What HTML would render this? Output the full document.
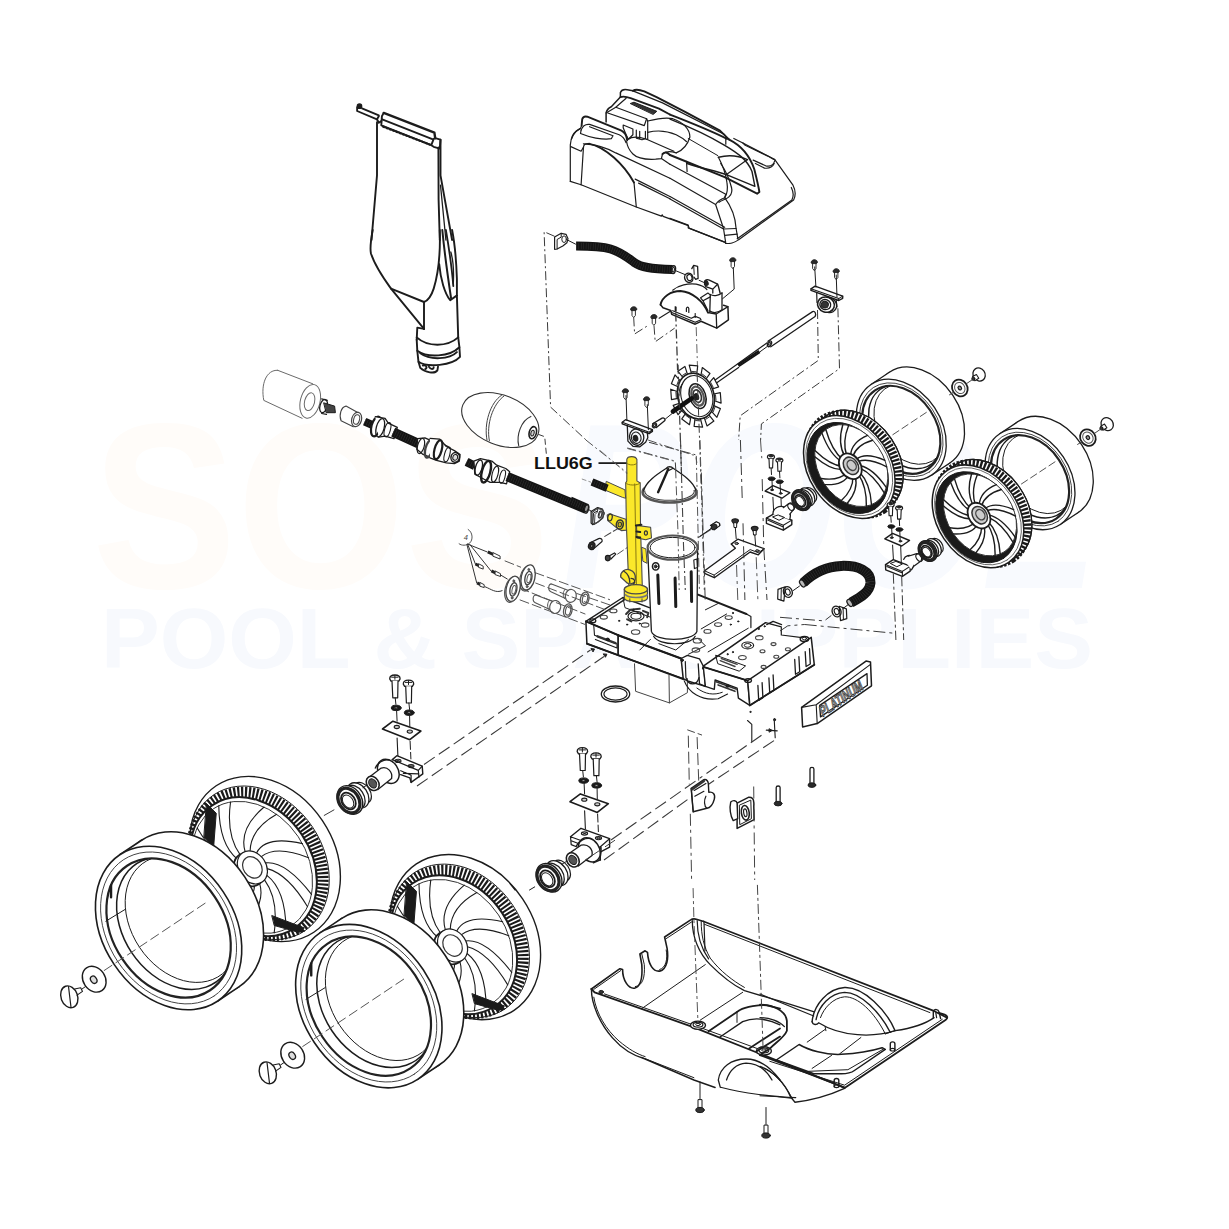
<!DOCTYPE html>
<html lang="en"><head><meta charset="utf-8"><title>LLU6G - Exploded parts diagram</title>
<style>
html,body{margin:0;padding:0;background:#fff}
body{width:1229px;height:1229px;overflow:hidden;font-family:"Liberation Sans",sans-serif}
svg{display:block}
svg text{font-family:"Liberation Sans",sans-serif}
</style></head><body>
<svg width="1229" height="1229" viewBox="0 0 1229 1229">
<rect x="0" y="0" width="1229" height="1229" fill="#fff"/>
<g fill="none" stroke="#1c1c1c" stroke-width="1.1" stroke-linejoin="round" stroke-linecap="round">
<!-- 00_watermark.py -->
<g stroke="none" font-weight="bold">
<text x="92" y="588" font-size="236" fill="#fffcf9" textLength="458" lengthAdjust="spacingAndGlyphs">SOS</text>
<text x="562" y="588" font-size="236" fill="#f8fafe" font-style="italic" textLength="535" lengthAdjust="spacingAndGlyphs">POOL</text>
<text x="101" y="668" font-size="86" fill="#f7f9fd" textLength="992" lengthAdjust="spacingAndGlyphs">POOL &amp; SPA SUPPLIES</text>
</g>
<!-- 01_bag.py -->
<ellipse cx="359.5" cy="106.2" rx="2.2" ry="2.2" fill="#1c1c1c" stroke-width="1.3"/>
<path d="M357.1 107.1L357.1 111L377 119.3" stroke-width="1.8"/>
<path d="M362 108.3L378.8 115.3" stroke-width="1.8"/>
<path d="M383.7 112.9L434.4 132.7L435.2 138.2" stroke-width="2.4"/>
<path d="M383.7 112.9L381.9 116.2L381.3 125.4L431.3 145.2L433.7 138.8L435.2 138.2L440.5 139.7L439.8 148.6L433.7 146.8L431.3 145.2" stroke-width="1.9"/>
<path d="M382.2 119.3L432.3 139.1" stroke-width="1.9"/>
<path d="M383.1 126.6L430.1 144.7" stroke-width="2.2" stroke-dasharray="1.5 2"/>
<path d="M378.8 116.2L377 119.3L378.8 122.7L381.3 121.1" stroke-width="1.9"/>
<path d="M377 122.3L377 175.4L371.5 240" stroke-width="1.9"/>
<path d="M440.5 139.7L440.5 175.4L452.1 240" stroke-width="1.9"/>
<path d="M438.4 147.4L438.6 199.8L439.8 240" stroke-width="1.9"/>
<path d="M440.5 185.2L445.9 240" stroke-width="1.3"/>
<path d="M372.7 230C370.9 239.8 369.7 247.1 370.9 253.2C373.9 263 381.3 275.2 391 288.6L424 328.9" stroke-width="1.9"/>
<path d="M391 288.6L424 302L424 328.9" stroke-width="1.9"/>
<path d="M439.8 230C440.5 254.4 438.6 272.7 433.7 288.6C431.3 295.9 427.6 300.8 424 302" stroke-width="1.9"/>
<path d="M452.1 230C454.5 242.2 456.3 260.5 456.9 278.8L456.9 295.9L458.2 337.4" stroke-width="1.9"/>
<path d="M439.2 264.2C440.5 278.8 444.7 293.5 450.2 300.2L456.3 295.9" stroke-width="1.9"/>
<path d="M442.3 230C444.1 248.3 447.2 272.7 451.1 298.3" stroke-width="2"/>
<path d="M445.9 230C449 248.3 452.1 270.3 453.3 286.1" stroke-width="1.8"/>
<path d="M450.8 252C453.3 260.5 453.9 272.7 453.3 283.7" stroke-width="1.3"/>
<path d="M424 328.9L417.3 327.6L416.7 339.8" stroke-width="1.9"/>
<path d="M416.7 337.4C427.6 347.2 447.2 347.2 458.2 337.4" stroke-width="1.9"/>
<path d="M416.7 339.8L417.3 350.8C427.6 358.2 449.6 356.9 459.4 347.2L458.2 337.4" stroke-width="1.9"/>
<path d="M417.3 350.8L418.5 361.8C427.6 367.9 452.1 365.5 460 356.9L459.4 347.2" stroke-width="1.9"/>
<path d="M420.3 353.3C430.1 360.6 449.6 359.4 456.9 352.1" stroke-width="1.9"/>
<path d="M418.5 361.8L420.3 367.9C425.2 372.8 435 374 437.4 370.4L438 366.7" stroke-width="1.9"/>
<path d="M422.8 365.5C426.4 364.3 427.6 367.9 425.2 369.1M428.9 366.7C431.3 370.4 433.7 369.1 433.7 367.3" stroke-width="1.9"/>
<!-- 02_cover.py -->
<path d="M570.3 181.4L570.3 144.9C570.8 137 574.8 131.3 580.5 128.4L581.6 125.6" stroke-width="1.2"/>
<path d="M570.8 146.6L581.1 151.2L583.4 147.2" stroke-width="1.2"/>
<path d="M581.1 184.8L583.4 148.3C583.4 144.4 585.6 143.2 589 143.6" stroke-width="1.2"/>
<path d="M589 143.6C605.6 147.2 623.8 164.3 634 182.5" stroke-width="1.9"/>
<path d="M634 182.5L636.3 207" stroke-width="1.2"/>
<path d="M570.3 181.4L581.1 184.8L636.3 207L661.4 216.1L662.2 214.8L663.1 216.4L688.4 225.6L689 228.1L724.6 242.1" stroke-width="1.2"/>
<path d="M581.6 125.6L582.2 119.3C582.8 117 585.1 116.2 587.3 116.7L621.5 130.7C624.9 132.4 626.6 135.2 627.2 140.4" stroke-width="1.9"/>
<path d="M581.1 130.1C582.8 125.6 586.2 123.9 589.6 124.4L619.2 134.7C622.7 136.4 624.9 139.2 626.1 142.7" stroke-width="1.2"/>
<path d="M580.5 133.5L581.1 130.1M580.5 133.5C588.5 137 603.3 140.4 611.3 138.7L613 135.8L589.6 126.7" stroke-width="1.2"/>
<path d="M571.4 139.2C572.5 133.5 577.1 130.1 580.5 128.4" stroke-width="1.2"/>
<path d="M583.4 143.8C594.2 143.8 607.8 148.3 615.8 152.9L669.9 178.3" stroke-width="1.2"/>
<path d="M635.2 179.1L669.9 196.5" stroke-width="1.2"/>
<path d="M638.6 183.1L669.9 198.8" stroke-width="1.2"/>
<path d="M606.1 122.1L606.1 113C606.7 109.6 609 107.9 611.3 106.8L620.4 97.1L620.4 92.5C621.5 89.7 623.8 89.1 627.2 89.7L632.9 90.8" stroke-width="1.5"/>
<path d="M632.9 90.8C635.2 89.1 639.7 89.7 644.3 91.4L656.6 97.2L685.1 111.9L720 130.6L729.2 139.6" stroke-width="1.9"/>
<path d="M620.4 97.1C623.8 95.9 626.1 96.5 630.6 98.2L659 108.6L669.9 114.5" stroke-width="1.9"/>
<path d="M632.9 90.8L639.7 93.7L662.5 102.8L724.6 134.5" stroke-width="1.3"/>
<path d="M615.8 107.3L646.6 118.7L647.7 121L647.7 139.2" stroke-width="1.2"/>
<path d="M606.1 113L615.8 107.3L626.1 98.2" stroke-width="1.2"/>
<path d="M607.8 113L644.3 125.6L646.6 118.7" stroke-width="1.2"/>
<path d="M630.6 103.4L634 102.2L656.8 111.3L653.4 114.2Z" fill="#333" stroke-width="1"/>
<path d="M623.2 125L632.9 129L632.9 134.7L628.3 139.2L626.1 134.7L623.2 127.8Z" stroke-width="1.2"/>
<path d="M636.3 130.1L636.3 138.1L642 139.8L645.4 138.7L645.4 131.3M639.7 131.3L639.7 138.7" stroke-width="1.2"/>
<path d="M647.7 121C656.8 118.7 668.2 117.6 672.8 118.7C683 122.1 689.9 129 689.9 137C687.6 144.9 681.9 150.6 676.2 152.9" stroke-width="1.2"/>
<path d="M647.7 132.4C656.8 130.1 668.2 131.3 676.2 134.7C683 138.1 685.3 140.4 686.4 141.5" stroke-width="1.2"/>
<path d="M646.6 139.2L673.9 151.2" stroke-width="1.2"/>
<path d="M676.2 152.9C669.4 150.6 664.8 151.8 662.5 154L661.4 158.6L655.7 159.2C646.6 159.7 637.5 158.6 632.9 154C629.5 150.6 627.2 146.1 626.6 141.5" stroke-width="1.2"/>
<path d="M628.3 139.2C632.9 135.8 639.7 137 646.6 139.2" stroke-width="1.2"/>
<path d="M662.5 154C664.8 151.8 667.1 151.8 669.9 155" stroke-width="1.9"/>
<path d="M661.4 158.6L669.9 164.3" stroke-width="1.2"/>
<path d="M670 114.6C692.8 123.7 713.3 131.6 727 139M729.2 139.6C740.6 145.3 749.7 155.6 754.3 169.2C756.6 178.3 758.3 185.2 759.4 192L757.1 193.7L724.7 177.2L670 155" stroke-width="1.9"/>
<path d="M670 119.1C692.8 128.2 713.3 138.5 724.7 145.3C738.3 153.3 747.5 160.1 752 171.5L754.9 186.3L727 174.9C715.6 170.4 704.2 169.2 687.1 163.5" stroke-width="1.4"/>
<path d="M733.8 138.5L742.9 143L774.8 159.6L793 185.2C795.3 189.7 795.9 195.4 793.6 200L738.3 239.9C734.9 242.7 729.2 243.8 725.8 243.3L724.7 242.1L688.2 227.9L688.2 225.1L670 218.2" stroke-width="1.2"/>
<path d="M742.9 143L745.2 145.3L766.8 155.6C770.2 156.7 772.5 159 774.8 159.6" stroke-width="1.2"/>
<path d="M753.2 160.1L765.7 165.8C770.2 167 773.7 164.7 774.8 160.7" stroke-width="1.2"/>
<path d="M755.4 163.5L764.5 168.1C769.1 168.7 772.5 167 774.2 163.5" stroke-width="1.2"/>
<path d="M791.3 187.5C793.6 192 793.6 196.6 791.9 200L737.2 238.7" stroke-width="1.2"/>
<path d="M670 198.9L723.5 229L736.1 228.5" stroke-width="1.2"/>
<path d="M670 196.6L724.7 227.3" stroke-width="1.2"/>
<path d="M670 164.3L725.8 194.3L724.7 197.7" stroke-width="1.2"/>
<path d="M670 178.3L715.6 204.5L723.5 228.5L725.8 243.3" stroke-width="1.2"/>
<path d="M715.6 204.5C717.8 201.1 721.3 198.9 724.7 197.7C731.5 206.8 735.5 218.2 736.1 228.5L737.8 238.7" stroke-width="1.2"/>
<path d="M719 202.3C722.4 200 727 198.9 729.2 196.6C732.1 194.3 732.1 189.7 731.5 187.5" stroke-width="1.2"/>
<path d="M724.7 235.3L737.2 234.2" stroke-width="1.2"/>
<path d="M718.4 157.3C727 155 738.3 155.6 747.5 159.6" stroke-width="1.5"/>
<path d="M718.4 157.3C722.4 164.7 725.8 173.8 727 182.9C728.1 189.7 727 194.3 724.7 197.7" stroke-width="1.2"/>
<path d="M720.7 163.5C724.7 169.2 729.2 178.3 731.5 187.5" stroke-width="1.2"/>
<path d="M725.8 174.9L747.5 159.6" stroke-width="1.2"/>
<path d="M686.5 161.3L687.1 171.5M725.8 137.3L725.8 144.2" stroke-width="1.2"/>
<path d="M688.2 138.5L717.8 155.6" stroke-width="1"/>
<!-- 03_tophose.py -->
<path d="M554.6 237.1L561.2 233.3L566 234.3L568 238.7L566.9 242.8L562.8 246L557.1 249L554.6 249.3Z" stroke-width="1.2"/>
<path d="M557.1 249L557.1 239.5L561.2 237.1L561.2 233.3" stroke-width="1"/>
<ellipse cx="564.1" cy="239.2" rx="2.3" ry="3.3" stroke-width="1"/>
<path d="M568 240.3L575.5 244.1" stroke-width="1"/>
<path d="M576.1 246C588.8 246 601.8 246.4 610.6 249C621.4 252.2 627.9 257.8 634.4 262.6C640.9 267.2 650.7 268.8 672.6 269.6" stroke="#141414" stroke-width="9" stroke-linecap="butt"/>
<path d="M576.1 246C588.8 246 601.8 246.4 610.6 249C621.4 252.2 627.9 257.8 634.4 262.6C640.9 267.2 650.7 268.8 672.6 269.6" stroke="#333" stroke-width="6.5" stroke-dasharray="0.5 1.9" stroke-linecap="butt"/>
<ellipse cx="673.4" cy="269.6" rx="2.1" ry="3.9" transform="rotate(8 673.4 269.6)" fill="#fff" stroke-width="1.4"/>
<ellipse cx="673.4" cy="269.6" rx="1.1" ry="2.4" transform="rotate(8 673.4 269.6)" fill="#ddd" stroke-width="1"/>
<path d="M675.9 270.8L684.8 274.5" stroke-width="1"/>
<ellipse cx="688.8" cy="277.8" rx="4.1" ry="4.7" transform="rotate(-20 688.8 277.8)" stroke-width="1.4"/>
<ellipse cx="689.5" cy="277.6" rx="2.5" ry="3.1" transform="rotate(-20 689.5 277.6)" stroke-width="1.2"/>
<path d="M691.8 268.6L693.7 265.4L697.6 266.4L698.1 278.3L695.7 279.3L694.2 277.3" stroke-width="1.3"/>
<path d="M693.7 265.4L694.2 274.4" stroke-width="1"/>
<path d="M699.1 280.3L704.5 282.7" stroke-width="1"/>
<path d="M660.5 304.7C662 296.9 670.8 291 680.5 291C692.3 292 703 300.8 707.9 312.5" stroke-width="1.9"/>
<path d="M672.7 290.2C678.6 285.2 688.3 283.2 696.2 284.2C701 285.2 704.9 287.1 706.9 289.5" stroke-width="1.2"/>
<path d="M660.5 304.7L663 307.8L670.8 310.5L671.7 314.4L695.2 324.2L701 321.3L716.7 328.1L728.4 319.8L727.9 306.6L723.5 305.2" stroke-width="1.5"/>
<path d="M716.7 328.1L716.2 314L727.9 306.6M707.9 312.5L716.2 314" stroke-width="1.3"/>
<path d="M709.8 311C712.8 313 717.6 313 722 309.6" stroke-width="1.2"/>
<path d="M710.3 294.9L709.8 311.5M722 293L722 309.1" stroke-width="1.3"/>
<path d="M710.3 294.4C712.8 296.4 718.6 295.9 722 293" stroke-width="1.2"/>
<path d="M704.9 281.2C705.9 279.3 707.9 279.3 709.8 280.3L717.6 284.2L718.6 287.1L720.1 293" stroke-width="1.4"/>
<path d="M704.9 281.2L704.5 284.2L705.9 286.6L712.8 289.1L712.8 293M712.8 289.1L717.6 284.2" stroke-width="1.3"/>
<ellipse cx="706.4" cy="283" rx="1.7" ry="2.5" transform="rotate(-20 706.4 283)" fill="#222" stroke-width="1"/>
<path d="M700.6 297.8L707.9 293L710.3 294.9M700.6 297.8L703 300.8L710.3 296.9M703 300.8L707.9 310.5" stroke-width="1.2"/>
<path d="M671.7 312.5L695.2 322.3L701 319.8L700.1 318.3L695.2 316.4L691.3 318.3L672.7 310.7" stroke-width="1.2"/>
<path d="M686.4 311.5L686.4 308.4C686.9 306.6 688.3 306.6 688.8 308.4L688.8 312.5" stroke-width="1.2"/>
<path d="M675.2 311L675.2 306.6M676.1 311L676.1 307.1"/>
<path d="M695.2 313.5L695.2 317.4"/>
<path d="M630.6 309.3 C630.6 305.8 636.8 305.8 636.8 309.3 L635.9 310.6 L631.5 310.6 Z" fill="#2a2a2a" stroke-width="0.9"/>
<path d="M632 310.6 L632 315.5 L633.7 317.6 L635.4 315.5 L635.4 310.6" stroke-width="0.9"/>
<path d="M650.8 317.1 C650.8 313.6 657 313.6 657 317.1 L656.1 318.4 L651.7 318.4 Z" fill="#2a2a2a" stroke-width="0.9"/>
<path d="M652.2 318.4 L652.2 323.3 L653.9 325.4 L655.6 323.3 L655.6 318.4" stroke-width="0.9"/>
<path d="M729.7 260.3 C729.7 256.8 735.9 256.8 735.9 260.3 L735 261.6 L730.6 261.6 Z" fill="#2a2a2a" stroke-width="0.9"/>
<path d="M731.1 261.6 L731.1 266.5 L732.8 268.6 L734.5 266.5 L734.5 261.6" stroke-width="0.9"/>
<path d="M622.3 391.3 C622.3 387.8 628.5 387.8 628.5 391.3 L627.6 392.6 L623.2 392.6 Z" fill="#2a2a2a" stroke-width="0.9"/>
<path d="M623.7 392.6 L623.7 397.5 L625.4 399.6 L627.1 397.5 L627.1 392.6" stroke-width="0.9"/>
<path d="M643.5 399.3 C643.5 395.8 649.7 395.8 649.7 399.3 L648.8 400.6 L644.4 400.6 Z" fill="#2a2a2a" stroke-width="0.9"/>
<path d="M644.9 400.6 L644.9 405.5 L646.6 407.6 L648.3 405.5 L648.3 400.6" stroke-width="0.9"/>
<path d="M811.2 262.3 C811.2 258.8 817.4 258.8 817.4 262.3 L816.5 263.6 L812.1 263.6 Z" fill="#2a2a2a" stroke-width="0.9"/>
<path d="M812.6 263.6 L812.6 268.5 L814.3 270.6 L816 268.5 L816 263.6" stroke-width="0.9"/>
<path d="M833.1 271.3 C833.1 267.8 839.3 267.8 839.3 271.3 L838.4 272.6 L834 272.6 Z" fill="#2a2a2a" stroke-width="0.9"/>
<path d="M834.5 272.6 L834.5 277.5 L836.2 279.6 L837.9 277.5 L837.9 272.6" stroke-width="0.9"/>
<path d="M659.1 318.3L670.8 311"/>
<path d="M733.3 267.6L734.2 289.1L722.5 298.8" stroke-width="1"/>
<path d="M633.7 317.4L634.6 334L649.3 324.7" stroke="#3a3a3a" stroke-width="1" stroke-dasharray="9 3 2 3" stroke-linecap="butt"/>
<path d="M654 325.7L655.2 341.8L674.7 328.1" stroke="#3a3a3a" stroke-width="1" stroke-dasharray="9 3 2 3" stroke-linecap="butt"/>
<path d="M675.7 312.5L677.6 370" stroke="#3a3a3a" stroke-width="1.3" stroke-dasharray="9 3 2 3" stroke-linecap="butt"/>
<path d="M696.2 327.1L697.6 370" stroke="#666" stroke-width="1" stroke-dasharray="9 3 2 3" stroke-linecap="butt"/>
<path d="M554.6 236.3L544.1 231.7L550.6 407.1L586.1 440" stroke="#3a3a3a" stroke-width="1" stroke-dasharray="9 3 2 3" stroke-linecap="butt"/>
<!-- 04_shaft.py -->
<path d="M811 288.8L815.1 286.1L842.7 296.1L842.7 298.3L838.7 300.5L811 290.4Z" stroke-width="1.4"/>
<path d="M811 288.8L838.7 298.6L842.7 296.1M838.7 298.6L838.7 300.5"/>
<path d="M816.7 292.9L817 302.7M836.2 300.2L837 306.7" stroke-width="1.2"/>
<ellipse cx="826" cy="304.6" rx="8.5" ry="7.5" transform="rotate(20 826 304.6)" stroke-width="1.6"/>
<ellipse cx="825.3" cy="304.6" rx="5.5" ry="5" transform="rotate(20 825.3 304.6)" stroke-width="1.3"/>
<ellipse cx="824.8" cy="304.6" rx="3.6" ry="3.3" transform="rotate(20 824.8 304.6)" fill="#333" stroke-width="1"/>
<path d="M829.7 297.8C834.6 298.6 837 302.7 836.6 307C835.4 311.6 831.3 313.2 828.1 312.4" stroke-width="1.3"/>
<path d="M767.9 341.2L812.6 311.6C815.1 310.8 816.4 314 815.1 316.5L770.8 346.8" stroke-width="1.3"/>
<ellipse cx="769.5" cy="343.8" rx="1.8" ry="3.1" transform="rotate(25 769.5 343.8)" stroke-width="1.3"/>
<ellipse cx="769.5" cy="343.8" rx="0.8" ry="1.6" transform="rotate(25 769.5 343.8)" stroke-width="1"/>
<path d="M713.4 381.3L767.1 342.8M715 383.9L738.6 367.4" stroke-width="1.2"/>
<path d="M759.7 352L767.1 346.6" stroke-width="1"/>
<path d="M738.3 365.6L759.4 351.6" stroke="#141414" stroke-width="3.6" stroke-linecap="butt"/>
<path d="M738.3 365.6L759.4 351.6" stroke="#333" stroke-dasharray="0.5 1.9" stroke-linecap="butt"/>
<path d="M713.9 394L720.3 392.6L721.1 403.1L714.5 400.8" fill="#fff" stroke-width="1.2"/>
<path d="M715.5 394.8L716 400.2" stroke-width="0.9"/>
<path d="M713.8 405.6L720.4 408.6L716.9 417.3L711.5 411.4" fill="#fff" stroke-width="1.2"/>
<path d="M714.9 407.3L713.2 411.9" stroke-width="0.9"/>
<path d="M708.9 414.8L713.9 421.1L707 425.9L704.3 417.9" fill="#fff" stroke-width="1.2"/>
<path d="M709.4 416.9L705.7 419.3" stroke-width="0.9"/>
<path d="M700.5 418.9L702.6 427.1L694.1 426.4L695 418.6" fill="#fff" stroke-width="1.2"/>
<path d="M700.1 420.9L695.7 420.5" stroke-width="0.9"/>
<path d="M690.9 417L689.5 424.7L681.8 418.9L685.8 413.2" fill="#fff" stroke-width="1.2"/>
<path d="M689.7 418.2L685.7 415.3" stroke-width="0.9"/>
<path d="M682.6 409.5L678.1 414.7L673.2 405.4L679.4 403.3" fill="#fff" stroke-width="1.2"/>
<path d="M681 409.7L678.5 404.8" stroke-width="0.9"/>
<path d="M677.9 398.3L671.5 399.7L670.7 389.2L677.3 391.5" fill="#fff" stroke-width="1.2"/>
<path d="M676.3 397.5L675.9 392" stroke-width="0.9"/>
<path d="M678 386.7L671.4 383.7L675 374.9L680.3 380.9" fill="#fff" stroke-width="1.2"/>
<path d="M676.9 385L678.6 380.4" stroke-width="0.9"/>
<path d="M682.9 377.5L677.9 371.2L684.9 366.4L687.5 374.4" fill="#fff" stroke-width="1.2"/>
<path d="M682.5 375.4L686.1 373" stroke-width="0.9"/>
<path d="M691.4 373.4L689.2 365.2L697.7 365.8L696.8 373.7" fill="#fff" stroke-width="1.2"/>
<path d="M691.7 371.4L696.1 371.8" stroke-width="0.9"/>
<path d="M700.9 375.3L702.3 367.5L710 373.4L706.1 379" fill="#fff" stroke-width="1.2"/>
<path d="M702.2 374L706.2 377" stroke-width="0.9"/>
<path d="M709.2 382.8L713.7 377.6L718.6 386.9L712.4 389" fill="#fff" stroke-width="1.2"/>
<path d="M710.8 382.6L713.3 387.5" stroke-width="0.9"/>
<ellipse cx="695.9" cy="396.1" rx="18" ry="23.4" transform="rotate(-18 695.9 396.1)" fill="#fff" stroke-width="1.6"/>
<ellipse cx="696.8" cy="396.1" rx="15.5" ry="21" transform="rotate(-18 696.8 396.1)"/>
<ellipse cx="697.6" cy="396.1" rx="8" ry="12.8" transform="rotate(-18 697.6 396.1)" stroke-width="1.5"/>
<ellipse cx="697.6" cy="396.1" rx="5.9" ry="9.8" transform="rotate(-18 697.6 396.1)" stroke="#555" stroke-width="2.2"/>
<ellipse cx="697.3" cy="396.1" rx="3.9" ry="6.4" transform="rotate(-18 697.3 396.1)" stroke="#333" stroke-width="1.6"/>
<ellipse cx="696.5" cy="396.7" rx="2.1" ry="3.2" transform="rotate(-18 696.5 396.7)" fill="#222" stroke-width="1"/>
<path d="M672.9 411.5L691.7 398.4" stroke="#111" stroke-width="4.6" stroke-linecap="round"/>
<path d="M679.7 409.2C682 411.5 684.3 413.8 690 417.2M682 384.2C679.7 387.6 678.6 393.3 678.6 399"/>
<path d="M652.6 423.8L662.1 418.1C663.8 417.4 665.5 418.9 664.9 420.4L656.4 427.5" stroke-width="1.3"/>
<ellipse cx="654.5" cy="425.4" rx="1.9" ry="2.5" transform="rotate(25 654.5 425.4)" stroke-width="1.3"/>
<ellipse cx="654.5" cy="425.4" rx="0.9" ry="1.4" transform="rotate(25 654.5 425.4)" stroke-width="1"/>
<path d="M665.5 418.9L671.8 413.8" stroke-width="1"/>
<path d="M622.2 422.3L625.6 419.7L652.4 429.7L652.4 431.4L649 433.7L622.2 423.8Z" stroke-width="1.4"/>
<path d="M622.2 422.3L649.2 432.2L652.4 429.7"/>
<path d="M627.3 425.2L627.9 441.1L633 446.3L639.9 446.8L645.6 442.3L647.8 437.7L647.3 432" stroke-width="1.3"/>
<ellipse cx="636.7" cy="437.1" rx="7.1" ry="8.2" transform="rotate(-15 636.7 437.1)" stroke-width="1.3"/>
<ellipse cx="636.2" cy="437.7" rx="4.8" ry="5.7" transform="rotate(-15 636.2 437.7)"/>
<ellipse cx="635.5" cy="438.3" rx="2.3" ry="3" transform="rotate(-15 635.5 438.3)" fill="#222" stroke-width="1"/>
<path d="M626 395.6L626.9 420.6M647.3 404.7L648.4 429.7" stroke-width="1"/>
<path d="M814.7 266.9L815.9 287.2M836.2 275L837 297" stroke-width="1"/>
<path d="M817.5 310L818.3 360.4L740.2 415.8L738.6 440" stroke="#3a3a3a" stroke-width="1" stroke-dasharray="9 3 2 3" stroke-linecap="butt"/>
<path d="M837.9 308.3L839.5 368.6L761.4 423.9L760.6 440" stroke="#3a3a3a" stroke-width="1" stroke-dasharray="9 3 2 3" stroke-linecap="butt"/>
<path d="M678 364.8L682 490" stroke="#3a3a3a" stroke-width="1.2" stroke-dasharray="9 3 2 3" stroke-linecap="butt"/>
<path d="M697.1 372.8L701.4 490" stroke="#3a3a3a" stroke-width="1" stroke-dasharray="9 3 2 3" stroke-linecap="butt"/>
<path d="M649 442.3L695.7 454.8L696.8 462.8" stroke="#3a3a3a" stroke-width="1" stroke-dasharray="9 3 2 3" stroke-linecap="butt"/>
<path d="M627.3 448L675.2 461.1L675.8 469.6" stroke="#3a3a3a" stroke-width="1" stroke-dasharray="9 3 2 3" stroke-linecap="butt"/>
<path d="M600 450.2L627.3 474.2" stroke="#888" stroke-width="0.8" stroke-dasharray="9 3 2 3" stroke-linecap="butt"/>
<!-- 05_lefthose.py -->
<path d="M277.7 370.3C266.3 369.5 260.6 384.2 263.8 400.4L302.1 418.3M277.7 370.3L312.7 383.8" stroke="#6a6a6a" stroke-width="1"/>
<ellipse cx="310.2" cy="401.3" rx="9.8" ry="17.2" transform="rotate(14 310.2 401.3)" fill="#fff" stroke="#6a6a6a" stroke-width="1"/>
<ellipse cx="309.6" cy="401.7" rx="5" ry="9.1" transform="rotate(14 309.6 401.7)" stroke="#6a6a6a" stroke-width="1"/>
<ellipse cx="323.6" cy="406.1" rx="3.6" ry="6.8" transform="rotate(15 323.6 406.1)" stroke-width="1.3"/>
<path d="M324 402.9L334.6 406.1L335.4 412.7L326.5 412.7Z" fill="#444" stroke-width="1"/>
<path d="M321.6 398.8L327.3 400.4M321.6 413.5L326.5 414.3" stroke-width="1.2"/>
<path d="M346 406.1C341.1 407 338.7 415.1 341.1 420.8L353.3 426.8M346 406.1L358.2 412.7" stroke="#444"/>
<ellipse cx="356.6" cy="419.5" rx="4.9" ry="7.3" transform="rotate(15 356.6 419.5)" fill="#fff" stroke="#444" stroke-width="1.2"/>
<ellipse cx="356.6" cy="419.5" rx="2.9" ry="4.9" transform="rotate(15 356.6 419.5)" stroke="#444" stroke-width="1"/>
<path d="M364.7 421.6L373.7 425.7" stroke="#141414" stroke-width="8" stroke-linecap="butt"/>
<path d="M364.7 421.6L373.7 425.7" stroke="#333" stroke-width="5.5" stroke-dasharray="0.5 1.9" stroke-linecap="butt"/>
<ellipse cx="376.1" cy="426.5" rx="4.6" ry="10.1" transform="rotate(15 376.1 426.5)" fill="#fff" stroke-width="2.2"/>
<path d="M375.3 416.7L385.1 418.3L388.3 423.2L397.3 427.3L394 438.7L385.1 436.2L378.6 437.1" fill="#fff" stroke-width="1.3"/>
<ellipse cx="380.2" cy="427.8" rx="3.9" ry="9.4" transform="rotate(15 380.2 427.8)" stroke-width="1.3"/>
<ellipse cx="387.5" cy="429.7" rx="2.9" ry="7.3" transform="rotate(15 387.5 429.7)"/>
<path d="M393.2 432.2L418.4 443.6" stroke="#141414" stroke-width="9.5" stroke-linecap="butt"/>
<path d="M393.2 432.2L418.4 443.6" stroke="#333" stroke-width="7" stroke-dasharray="0.5 1.9" stroke-linecap="butt"/>
<path d="M417.6 438.7L424.9 437.9L432.3 441.1L442 443.6L450 447.6L450 462.3L442 460.7L432.3 458.2L422.5 454.1L416.8 449.3Z" fill="#fff" stroke-width="1.3"/>
<ellipse cx="420.9" cy="446" rx="3.3" ry="7.8" transform="rotate(15 420.9 446)" stroke-width="1.2"/>
<ellipse cx="429" cy="448.9" rx="3.6" ry="9" transform="rotate(15 429 448.9)" stroke="#444" stroke-width="2.4"/>
<ellipse cx="437.1" cy="452.2" rx="2.9" ry="6.8" transform="rotate(15 437.1 452.2)"/>
<path d="M430 438.3L439.8 439.2L446.3 446.5L454.4 450.6L460.1 454.6L459.3 461.1L454.4 463.6L446.3 462.8L436.5 460.3L430 457.9" fill="#fff" stroke-width="1.3"/>
<ellipse cx="438.1" cy="449.7" rx="3.6" ry="9.8" transform="rotate(15 438.1 449.7)" stroke-width="2.2"/>
<ellipse cx="447.1" cy="454.6" rx="2.6" ry="7.3" transform="rotate(15 447.1 454.6)"/>
<ellipse cx="455.2" cy="457.4" rx="4.2" ry="4.9" transform="rotate(15 455.2 457.4)" stroke-width="1.5"/>
<ellipse cx="455.2" cy="457.4" rx="2.4" ry="2.9" transform="rotate(15 455.2 457.4)" fill="#ddd" stroke-width="1"/>
<path d="M466.6 461.9L474.8 466" stroke="#141414" stroke-width="8.5" stroke-linecap="butt"/>
<path d="M466.6 461.9L474.8 466" stroke="#333" stroke-width="6" stroke-dasharray="0.5 1.9" stroke-linecap="butt"/>
<path d="M473.9 461.1L480.4 458.7L491.8 461.1L496.7 465.2L505.7 468.5L509.7 471.7L506.5 483.9L500 482.3L490.2 482.3L483.7 479L474.8 474.1Z" fill="#fff" stroke-width="1.3"/>
<ellipse cx="478.8" cy="467.6" rx="3.3" ry="7.8" transform="rotate(15 478.8 467.6)" stroke-width="1.3"/>
<ellipse cx="486.1" cy="471.7" rx="4.2" ry="11.1" transform="rotate(15 486.1 471.7)" stroke-width="2.4"/>
<ellipse cx="495.1" cy="474.1" rx="2.9" ry="8.1" transform="rotate(15 495.1 474.1)"/>
<ellipse cx="502.4" cy="476.6" rx="2.6" ry="6.8" transform="rotate(15 502.4 476.6)"/>
<path d="M507.3 476.6L586.2 509.1" stroke="#141414" stroke-width="9.4" stroke-linecap="butt"/>
<path d="M507.3 476.6L586.2 509.1" stroke="#333" stroke-width="6.9" stroke-dasharray="0.5 1.9" stroke-linecap="butt"/>
<ellipse cx="586.6" cy="509.1" rx="2" ry="4.2" transform="rotate(18 586.6 509.1)" fill="#bbb" stroke-width="1.2"/>
<ellipse cx="500.3" cy="420" rx="40.4" ry="24.7" transform="rotate(22 500.3 420)" fill="#fff" stroke="#333"/>
<path d="M501.6 395.2C490.2 402.5 483.7 423.7 487 440" stroke="#444" stroke-width="1"/>
<path d="M504 396C492.7 404.2 486.1 424.5 489.4 440.8" stroke="#444" stroke-width="1"/>
<path d="M530.9 416.4C521.1 420.4 516.2 435.1 518.7 445.7" stroke="#333"/>
<ellipse cx="532.8" cy="432.7" rx="3.6" ry="6.2" transform="rotate(15 532.8 432.7)" stroke-width="1.6"/>
<ellipse cx="532.5" cy="433.1" rx="1.6" ry="2.9" transform="rotate(15 532.5 433.1)" fill="#ccc" stroke-width="1"/>
<path d="M538.2 434.3L544.7 436.7L546.4 454.6" stroke="#3a3a3a" stroke-width="1" stroke-dasharray="6 3" stroke-linecap="butt"/>
<path d="M591.1 511.6L597.6 507.5L602.5 509.1L604.1 513.2L602.5 518.1L597.6 522.2L592.7 524.6L591.1 523Z" stroke-width="1.2"/>
<path d="M592.7 524.6L593.5 513.2L597.6 510.8L597.6 507.5" stroke-width="1"/>
<ellipse cx="600.1" cy="514.5" rx="1.6" ry="3.6" transform="rotate(15 600.1 514.5)" stroke-width="1"/>
<path d="M588.7 509.6L591.9 511.6" stroke-width="1"/>
<text x="534" y="468.6" font-size="17" font-weight="bold" fill="#111" stroke="none" textLength="58.8" lengthAdjust="spacingAndGlyphs">LLU6G</text>
<path d="M598.5 463.1 L628 463.1" stroke="#111" stroke-width="1.7" stroke-linecap="butt"/>
<!-- 05b_chassis.py -->
<path d="M634.5 663.8L635.6 691.3L669.4 702.9L687.4 692.7L687.4 678.6" fill="#fff" stroke="#444" stroke-width="1"/>
<path d="M669.4 702.9L669 675.4" stroke="#444" stroke-width="1"/>
<path d="M684.2 680.7C688.5 692.3 701.2 701.2 718.1 698.7L727.6 694"/>
<path d="M696.9 688.1C705.4 694.4 713.9 695.5 722.3 692.3" stroke-width="1"/>
<ellipse cx="615.5" cy="694" rx="14.2" ry="8" stroke-width="1.3"/>
<ellipse cx="615.5" cy="694" rx="11.6" ry="6.1"/>
<path d="M585.9 621.4L622.9 597.5L649.3 578.5L746.4 614L750.9 616.6L750.9 627.6L765.5 622.7L781.3 626.9L781.3 635L802.1 637.7L811.2 637.3L747.7 680.7L703.3 666.9L681.1 658.5L618.2 635.2Z" fill="#fff" stroke="#fff" stroke-width="0.1"/>
<path d="M585.9 621.4L622.9 597.5L649.3 607.7" stroke-width="1.4"/>
<path d="M588.6 622.9L624.6 599.7" stroke-width="1.6"/>
<path d="M698 594.6L746.4 614" stroke-width="2"/>
<path d="M746.4 614L750.9 616.6L750.9 627.6M765.5 622.7L781.3 626.9L781.3 635L802.1 637.7M766.7 624.6L773.1 621.4L781.6 624.6" stroke-width="1.2"/>
<path d="M703.3 666.1L765.5 622.7" stroke-width="1.5"/>
<path d="M708.1 651.9L748.3 628.2M705.4 609.8L718.1 603.5M701.2 628.9L726.6 614" stroke-width="1"/>
<path d="M585.9 621.4L586.9 643.7L618.2 655.3L618.2 635.2Z" fill="#fff" stroke-width="1.5"/>
<path d="M585.9 621.4L618.2 635.2" stroke-width="1.8"/>
<path d="M593.7 624.6L594.5 635.2L617 644.1L617 647.9L595.4 639.4"/>
<path d="M597.5 636.3L615.5 643.2" stroke="#333" stroke-width="2.4"/>
<ellipse cx="607.7" cy="639.4" rx="1.7" ry="1.3" fill="#222" stroke-width="1"/>
<path d="M618.2 635.2L681.1 658.5L683.2 678.6L618.2 655.3Z" fill="#fff" stroke-width="1.5"/>
<path d="M618.2 635.2L681.1 658.5" stroke-width="2.2"/>
<path d="M586.9 643.7L683.2 679.2" stroke-width="1.8"/>
<path d="M681.1 658.5L687.4 655.3L699.5 658.9L703.7 666.9L705.4 686.4L699.5 683.9L698.2 663.8" fill="#fff" stroke-width="1.3"/>
<path d="M685.3 661.6L685.9 677.5C688.5 686 696.9 686 699 677.5" stroke-width="1.2"/>
<path d="M683.2 678.6L688.5 681.3L705.4 686.4" stroke-width="1.5"/>
<ellipse cx="682.1" cy="660.2" rx="1.3" ry="1.3" fill="#222" stroke-width="1"/>
<ellipse cx="703.7" cy="668.2" rx="1.3" ry="1.3" fill="#222" stroke-width="1"/>
<path d="M703.3 666.9L705.4 686.4L714.3 689.4L715.1 680L737.1 688.1L738.4 698.2L749.8 705.4L747.7 680.7Z" fill="#fff" stroke-width="1.4"/>
<path d="M703.3 666.9L747.7 680.7" stroke-width="1.8"/>
<path d="M716 681.7L736.1 689.1M718.1 684.9L735 691.3" stroke="#333" stroke-width="1.6"/>
<ellipse cx="727.6" cy="686" rx="1.7" ry="1.3" fill="#222" stroke-width="1"/>
<path d="M747.7 680.7L749.8 705.4L814.3 664.8L811.2 637.3Z" fill="#fff" stroke-width="1.5"/>
<path d="M749.8 705.4L814.3 664.8" stroke-width="1.8"/>
<path d="M757.9 685.5L758.7 700.4L762.9 697.8L762.1 682.6" stroke-width="1.3"/>
<path d="M768.9 677.9L769.7 692.7L773.9 690.2L773.1 675" stroke-width="1.3"/>
<path d="M794.7 659.5L795.5 674.3L799.7 671.8L798.9 656.6" stroke-width="1.3"/>
<path d="M805.2 651.7L806.1 666.5L810.3 664L809.5 648.7" stroke-width="1.3"/>
<ellipse cx="748.1" cy="680.5" rx="3.4" ry="1.9" stroke-width="1.3"/>
<ellipse cx="804.4" cy="639" rx="4.2" ry="2.5" stroke-width="1.4"/>
<ellipse cx="804.4" cy="638.6" rx="2.1" ry="1.3" stroke-width="1"/>
<ellipse cx="592.8" cy="620.8" rx="3" ry="1.9" stroke-width="1.3"/>
<path d="M622.9 597.5L625 607.7L650.4 617.2" stroke-width="1"/>
<path d="M716 655.3L745.6 665.9L739.2 671.2L718.1 663.8Z" stroke-width="1"/>
<path d="M721.3 658.5L737.1 664.4M720.2 660.6L735 666.5" stroke="#444" stroke-width="1.4"/>
<path d="M699 639.4L705.4 645.8L688.5 654.2" stroke-width="1"/>
<path d="M650.4 639.4L639.8 650M688.5 639.4L675.8 650L658.9 643.7" stroke-width="1"/>
<ellipse cx="613.4" cy="610.9" rx="3.6" ry="1.9" stroke="#444"/>
<ellipse cx="603.8" cy="617.2" rx="3.6" ry="1.9" stroke="#444"/>
<ellipse cx="635.6" cy="632" rx="4.2" ry="2.3" stroke="#444"/>
<ellipse cx="645.1" cy="625" rx="3.8" ry="2.1" stroke="#444"/>
<ellipse cx="718.1" cy="624.6" rx="3.6" ry="1.9" stroke="#444"/>
<ellipse cx="728.7" cy="617.6" rx="3.6" ry="1.9" stroke="#444"/>
<ellipse cx="707.5" cy="631.4" rx="3.6" ry="1.9" stroke="#444"/>
<ellipse cx="697.4" cy="640.7" rx="4.2" ry="2.3" stroke="#444"/>
<ellipse cx="759.3" cy="637.7" rx="3.8" ry="2.1" stroke="#444"/>
<ellipse cx="742.4" cy="657.6" rx="3.8" ry="2.1" stroke="#444"/>
<ellipse cx="762.5" cy="651.3" rx="2.5" ry="1.5" stroke="#444"/>
<ellipse cx="776.3" cy="656.8" rx="2.5" ry="1.5" stroke="#444"/>
<ellipse cx="773.5" cy="644.1" rx="2.5" ry="1.5" stroke="#444"/>
<ellipse cx="787.9" cy="649.2" rx="2.5" ry="1.5" stroke="#444"/>
<ellipse cx="763.6" cy="666.9" rx="2.5" ry="1.5" stroke="#444"/>
<ellipse cx="695.9" cy="650" rx="3.8" ry="2.1" stroke="#444"/>
<ellipse cx="636" cy="616.2" rx="8" ry="4.7" stroke-width="1.2"/>
<ellipse cx="636" cy="616.2" rx="5.1" ry="3"/>
<path d="M626.1 614L630.3 609.8L639.8 608.8M627.1 619.3L631.4 621.4M643 610.9L648.3 613L647.2 617.2" stroke="#333" stroke-width="2"/>
<ellipse cx="747.7" cy="645.4" rx="5.9" ry="3.4" stroke-width="1.2"/>
<ellipse cx="747.7" cy="645.4" rx="3.4" ry="1.9" stroke-width="1"/>
<ellipse cx="619.1" cy="620.8" rx="0.6" ry="0.6" fill="#333" stroke-width="1"/>
<ellipse cx="627.1" cy="624.6" rx="0.6" ry="0.6" fill="#333" stroke-width="1"/>
<ellipse cx="639.8" cy="623.6" rx="0.6" ry="0.6" fill="#333" stroke-width="1"/>
<ellipse cx="633.5" cy="609.8" rx="0.6" ry="0.6" fill="#333" stroke-width="1"/>
<ellipse cx="730.8" cy="624.6" rx="0.6" ry="0.6" fill="#333" stroke-width="1"/>
<ellipse cx="738.2" cy="621.4" rx="0.6" ry="0.6" fill="#333" stroke-width="1"/>
<ellipse cx="732.9" cy="613" rx="0.6" ry="0.6" fill="#333" stroke-width="1"/>
<ellipse cx="727.6" cy="654.2" rx="0.6" ry="0.6" fill="#333" stroke-width="1"/>
<ellipse cx="732.9" cy="652.1" rx="0.6" ry="0.6" fill="#333" stroke-width="1"/>
<ellipse cx="758.7" cy="628.9" rx="0.6" ry="0.6" fill="#333" stroke-width="1"/>
<ellipse cx="764.6" cy="626.3" rx="0.6" ry="0.6" fill="#333" stroke-width="1"/>
<!-- 06_center.py -->
<ellipse cx="669.5" cy="492.2" rx="26.9" ry="10.3" fill="#fff" stroke="#555" stroke-width="2.6"/>
<ellipse cx="669.5" cy="491.3" rx="24.8" ry="9" stroke="#444"/>
<path d="M643.7 490.7C645.7 482.1 655.4 475.4 666.4 468.3C667.6 466.2 671.5 466.2 673.1 468.3C682.9 474.8 693.3 481.5 695.7 490" fill="#fff" stroke-width="1.3"/>
<path d="M668.3 469L658.1 492.2" stroke-width="2.4"/>
<path d="M666.4 468.3L668.9 470.5L673.1 468.3"/>
<path d="M647.6 547.6L651.4 631.4C654.6 642 692.7 642 696.9 631.4L697.6 547.6Z" fill="#fff" stroke-width="1.3"/>
<path d="M653.6 636.3C658.9 646.2 690.6 646.2 695.2 636.3" stroke-width="1.2"/>
<ellipse cx="672.6" cy="547.6" rx="25" ry="12.1" fill="#fff" stroke="#555" stroke-width="2.2"/>
<ellipse cx="672.6" cy="547.6" rx="22.4" ry="10.2" stroke-width="1"/>
<path d="M657.8 574.9L658.9 603.5" stroke-width="3"/>
<path d="M675.1 578.1L675.8 606.6" stroke-width="3"/>
<path d="M691.2 571.7L691.6 601.4" stroke-width="3"/>
<ellipse cx="655.7" cy="566.4" rx="3.2" ry="3.6" stroke-width="1.6"/>
<ellipse cx="655.7" cy="566.4" rx="1.3" ry="1.5" fill="#333" stroke-width="1"/>
<path d="M693.8 560.1L696.9 559L697.6 567.5L694.4 568.6Z"/>
<path d="M626.8 459.5C627.4 455.6 635.9 455.6 636.9 459.5L636.9 480.9L640.2 483L640.5 525.4L642.3 586.5L628.8 586.5L626.4 525.4L625.7 483L626.8 480.9Z" fill="#fbe82a" stroke="#4a4a4a"/>
<path d="M626.8 463.2C628.6 465.6 635.3 465.6 636.9 463.2M625.7 483C627.4 485.8 638.3 485.8 640.2 483M634.7 483.9L636.5 585.2" stroke="#8a7a10" stroke-width="1"/>
<path d="M606.6 481.5L624.9 489.8L625.7 498.3L622.5 497.4L605.4 490.3Z" fill="#fbe82a" stroke="#4a4a4a" stroke-width="1"/>
<path d="M592 482.1L607.2 488.2" stroke="#141414" stroke-width="7.5" stroke-linecap="butt"/>
<path d="M592 482.1L607.2 488.2" stroke="#333" stroke-width="5" stroke-dasharray="0.5 1.9" stroke-linecap="butt"/>
<path d="M582.2 479.1L590.7 482.1" stroke="#888" stroke-width="0.9" stroke-dasharray="4 3"/>
<path d="M607.2 515.1C609.1 513 611.5 513.6 613 515.1L625.9 519.3L626.4 530.1L621.3 530.6L616.4 527.6L607.8 520.6Z" fill="#fbe82a" stroke="#4a4a4a"/>
<ellipse cx="610" cy="517.5" rx="2.2" ry="3.4" transform="rotate(15 610 517.5)" stroke="#333" stroke-width="1.2"/>
<ellipse cx="619.8" cy="524.5" rx="3.4" ry="4.6" transform="rotate(10 619.8 524.5)" stroke="#333" stroke-width="1.6"/>
<ellipse cx="619.8" cy="524.5" rx="1.7" ry="2.4" transform="rotate(10 619.8 524.5)" fill="#c9b81a" stroke="#333" stroke-width="1"/>
<path d="M636.5 525.4L650.6 527.3L651.5 537.9L645.7 539.8L636.9 537.9Z" fill="#fbe82a" stroke="#4a4a4a"/>
<path d="M635.9 525.4L641.4 524.8M636.5 531.5L640.2 532.1M636.5 537L640.2 537.6" stroke="#222" stroke-width="2"/>
<ellipse cx="645.9" cy="533" rx="1.5" ry="2.2" stroke="#333" stroke-width="1.2"/>
<path d="M642 547.4L645.9 548.9L647.1 563.3L643.2 561.4Z" fill="#fbe82a" stroke="#4a4a4a" stroke-width="1"/>
<path d="M624.3 589.3C624.3 584.4 647.5 584.4 647.5 589.3L647.5 598.1C647.5 603 624.3 603 624.3 598.1Z" fill="#fbe82a" stroke="#4a4a4a" stroke-width="1.2"/>
<ellipse cx="635.9" cy="589.3" rx="11.6" ry="4.6" fill="#fbe82a" stroke="#4a4a4a" stroke-width="1.3"/>
<path d="M625.5 594.8C628.6 598.4 643.2 598.4 647.1 594.8" stroke="#777" stroke-width="1.6"/>
<path d="M629.8 598.8L629.8 602.1M642 598.8L642 602.1" stroke="#4a4a4a" stroke-width="1"/>
<path d="M620.7 577.1C620 572.2 624.9 568.3 629.8 569.8C633.5 571 635.9 574.6 635.3 579.5C634.7 583.4 631 584.7 627.4 583.2Z" fill="#fbe82a" stroke="#4a4a4a" stroke-width="1.3"/>
<path d="M623.7 571C627.4 573.4 629.8 577.1 629.8 582.6M631 578.3C634.7 578.3 635.9 582 633.5 583.8" stroke="#333" stroke-width="1.3"/>
<path d="M570 501L587.1 508.3" stroke="#141414" stroke-width="9" stroke-linecap="butt"/>
<path d="M570 501L587.1 508.3" stroke="#333" stroke-width="6.5" stroke-dasharray="0.5 1.9" stroke-linecap="butt"/>
<ellipse cx="586.5" cy="508.3" rx="1.7" ry="3.4" transform="rotate(18 586.5 508.3)" fill="#999"/>
<path d="M592 512.6L597.5 508.3L602 509.6L604.2 513L602.7 518.1L598.7 521.5L594.4 524.2L592.3 523.2Z" stroke="#444" stroke-width="1.2"/>
<path d="M594.4 524.2L595 514.5L597.5 512L597.5 508.3" stroke="#444" stroke-width="1"/>
<ellipse cx="600.8" cy="514.7" rx="1.5" ry="3.4" transform="rotate(15 600.8 514.7)" stroke="#444" stroke-width="1"/>
<path d="M590.1 542.8L598.7 538.6C601.1 537.9 602.7 539.5 602 541.5L593.8 548.6" stroke-width="1.2"/>
<ellipse cx="591.7" cy="545.9" rx="3.2" ry="3.7" transform="rotate(20 591.7 545.9)" fill="#2a2a2a" stroke-width="1.2"/>
<ellipse cx="591.7" cy="545.9" rx="1.2" ry="1.5" transform="rotate(20 591.7 545.9)" fill="#888" stroke-width="1"/>
<path d="M609.1 555.9L614.5 552.9L615.8 554.1L610.9 559" stroke-width="1.2"/>
<ellipse cx="607.8" cy="558.1" rx="2.4" ry="2.7" fill="#444" stroke-width="1.2"/>
<path d="M604.8 536.4L617 529.1" stroke="#444" stroke-dasharray="7 3"/>
<path d="M617.6 554.1L627.4 547.4" stroke="#555" stroke-width="1" stroke-dasharray="7 3"/>
<path d="M710.4 525.4L716.5 522L720 524.2M711 528.5L720 525.4"/>
<ellipse cx="715.2" cy="526" rx="2.4" ry="2.2" transform="rotate(-25 715.2 526)" fill="#333" stroke-width="1"/>
<path d="M698.2 537.6L710.4 529.7" stroke="#444"/>
<path d="M675.6 469.3L678 532.8L679.2 590" stroke="#555" stroke-width="1" stroke-dasharray="9 3 2 3" stroke-linecap="butt"/>
<path d="M680.5 440L683.5 545L685.3 590" stroke="#444" stroke-width="1.1" stroke-dasharray="9 3 2 3" stroke-linecap="butt"/>
<path d="M696.3 455.9L699.4 590" stroke="#555" stroke-width="1" stroke-dasharray="9 3 2 3" stroke-linecap="butt"/>
<path d="M700 440L702.4 525.4L704.3 590" stroke="#555" stroke-width="1" stroke-dasharray="9 3 2 3" stroke-linecap="butt"/>
<path d="M627.4 448.5L675 461.4" stroke="#666" stroke-width="1" stroke-dasharray="9 3 2 3" stroke-linecap="butt"/>
<path d="M648.1 440L680.5 451L695.7 455.9" stroke="#555" stroke-width="1" stroke-dasharray="9 3 2 3" stroke-linecap="butt"/>
<path d="M585.9 440L627.4 473" stroke="#555" stroke-width="1" stroke-dasharray="9 3 2 3" stroke-linecap="butt"/>
<!-- 07_wheels.py -->
<g transform="translate(901.3 429.8) rotate(56.3) scale(54.5 40)">
<circle cx="0.000" cy="-0.550" r="1.000" fill="#fff" stroke-width="1.3" vector-effect="non-scaling-stroke"/>
<path d="M-1 0 L-1 -0.550 L1 -0.550 L1 0 Z" fill="#fff" stroke="#fff" stroke-width="0" vector-effect="non-scaling-stroke"/>
<path d="M-1 0 L-1 -0.550 M1 0 L1 -0.550" stroke-width="1.3" vector-effect="non-scaling-stroke"/>
<circle cx="0.000" cy="0.000" r="1.000" fill="#fff" stroke-width="1.3" vector-effect="non-scaling-stroke"/>
<circle cx="0.000" cy="0.000" r="0.930" stroke="#444" stroke-width="1" vector-effect="non-scaling-stroke"/>
<circle cx="0.000" cy="0.000" r="0.870" stroke="#222" stroke-width="2.2" vector-effect="non-scaling-stroke"/>
<path d="M0.810 -0.318 A0.830 0.830 0 1 1 -0.810 -0.318" stroke-width="1.5" vector-effect="non-scaling-stroke"/>
<path d="M0.785 -0.375 A0.795 0.795 0 1 1 -0.785 -0.375" stroke-width="1" vector-effect="non-scaling-stroke"/>
</g>
<g transform="translate(1030 479.1) rotate(56.3) scale(54.5 40)">
<circle cx="0.000" cy="-0.550" r="1.000" fill="#fff" stroke-width="1.3" vector-effect="non-scaling-stroke"/>
<path d="M-1 0 L-1 -0.550 L1 -0.550 L1 0 Z" fill="#fff" stroke="#fff" stroke-width="0" vector-effect="non-scaling-stroke"/>
<path d="M-1 0 L-1 -0.550 M1 0 L1 -0.550" stroke-width="1.3" vector-effect="non-scaling-stroke"/>
<circle cx="0.000" cy="0.000" r="1.000" fill="#fff" stroke-width="1.3" vector-effect="non-scaling-stroke"/>
<circle cx="0.000" cy="0.000" r="0.930" stroke="#444" stroke-width="1" vector-effect="non-scaling-stroke"/>
<circle cx="0.000" cy="0.000" r="0.870" stroke="#222" stroke-width="2.2" vector-effect="non-scaling-stroke"/>
<path d="M0.810 -0.318 A0.830 0.830 0 1 1 -0.810 -0.318" stroke-width="1.5" vector-effect="non-scaling-stroke"/>
<path d="M0.785 -0.375 A0.795 0.795 0 1 1 -0.785 -0.375" stroke-width="1" vector-effect="non-scaling-stroke"/>
</g>
<g transform="translate(849.3 467) rotate(56.3) scale(55.3 40.8)">
<circle cx="0.000" cy="-0.240" r="1.000" fill="#fff" stroke-width="1.2" vector-effect="non-scaling-stroke"/>
<circle cx="0.000" cy="-0.120" r="0.985" stroke="#1a1a1a" stroke-width="8" stroke-dasharray="2.3 1.5" stroke-linecap="butt" vector-effect="non-scaling-stroke"/>
<circle cx="0.000" cy="-0.240" r="1.000" stroke-width="1.2" vector-effect="non-scaling-stroke"/>
<path d="M-1 0 L-1 -0.240 M1 0 L1 -0.240" stroke-width="1.2" vector-effect="non-scaling-stroke"/>
<circle cx="0.000" cy="0.000" r="1.000" fill="#fff" stroke-width="1.5" vector-effect="non-scaling-stroke"/>
<circle cx="0.000" cy="0.000" r="0.950" stroke="#555" stroke-width="0.9" vector-effect="non-scaling-stroke"/>
<circle cx="0.000" cy="0.045" r="0.890" fill="#1a1a1a" stroke-width="1" vector-effect="non-scaling-stroke"/>
<circle cx="0.000" cy="-0.060" r="0.800" fill="#fff" stroke="#333" stroke-width="1" vector-effect="non-scaling-stroke"/>
<path d="M0.191 -0.001 Q0.441 0.117 0.528 0.541 M0.170 0.046 Q0.381 0.223 0.425 0.617 M0.108 0.108 Q0.224 0.359 0.018 0.740 M0.062 0.130 Q0.110 0.402 -0.110 0.732 M-0.025 0.138 Q-0.098 0.405 -0.500 0.564 M-0.074 0.126 Q-0.213 0.365 -0.593 0.477 M-0.147 0.076 Q-0.374 0.233 -0.784 0.097 M-0.176 0.034 Q-0.436 0.129 -0.799 -0.030 M-0.200 -0.050 Q-0.475 -0.076 -0.702 -0.444 M-0.196 -0.101 Q-0.455 -0.196 -0.632 -0.551 M-0.159 -0.181 Q-0.353 -0.377 -0.291 -0.805 M-0.124 -0.217 Q-0.262 -0.456 -0.168 -0.842 M-0.044 -0.255 Q-0.067 -0.530 0.257 -0.818 M0.006 -0.260 Q0.054 -0.532 0.374 -0.767 M0.091 -0.238 Q0.251 -0.463 0.684 -0.476 M0.133 -0.209 Q0.345 -0.386 0.741 -0.361 M0.184 -0.138 Q0.452 -0.207 0.791 0.061 M0.198 -0.088 Q0.474 -0.088 0.761 0.185" stroke-width="1.4" vector-effect="non-scaling-stroke"/>
<circle cx="0.000" cy="-0.030" r="0.250" fill="#fff" stroke-width="1.8" vector-effect="non-scaling-stroke"/>
<circle cx="0.000" cy="-0.050" r="0.170" fill="#ccc" stroke="#333" stroke-width="1.5" vector-effect="non-scaling-stroke"/>
<circle cx="0.000" cy="-0.070" r="0.100" stroke="#444" stroke-width="1.4" vector-effect="non-scaling-stroke"/>
</g>
<g transform="translate(978 516.3) rotate(56.3) scale(55.3 40.8)">
<circle cx="0.000" cy="-0.240" r="1.000" fill="#fff" stroke-width="1.2" vector-effect="non-scaling-stroke"/>
<circle cx="0.000" cy="-0.120" r="0.985" stroke="#1a1a1a" stroke-width="8" stroke-dasharray="2.3 1.5" stroke-linecap="butt" vector-effect="non-scaling-stroke"/>
<circle cx="0.000" cy="-0.240" r="1.000" stroke-width="1.2" vector-effect="non-scaling-stroke"/>
<path d="M-1 0 L-1 -0.240 M1 0 L1 -0.240" stroke-width="1.2" vector-effect="non-scaling-stroke"/>
<circle cx="0.000" cy="0.000" r="1.000" fill="#fff" stroke-width="1.5" vector-effect="non-scaling-stroke"/>
<circle cx="0.000" cy="0.000" r="0.950" stroke="#555" stroke-width="0.9" vector-effect="non-scaling-stroke"/>
<circle cx="0.000" cy="0.045" r="0.890" fill="#1a1a1a" stroke-width="1" vector-effect="non-scaling-stroke"/>
<circle cx="0.000" cy="-0.060" r="0.800" fill="#fff" stroke="#333" stroke-width="1" vector-effect="non-scaling-stroke"/>
<path d="M0.191 -0.001 Q0.441 0.117 0.528 0.541 M0.170 0.046 Q0.381 0.223 0.425 0.617 M0.108 0.108 Q0.224 0.359 0.018 0.740 M0.062 0.130 Q0.110 0.402 -0.110 0.732 M-0.025 0.138 Q-0.098 0.405 -0.500 0.564 M-0.074 0.126 Q-0.213 0.365 -0.593 0.477 M-0.147 0.076 Q-0.374 0.233 -0.784 0.097 M-0.176 0.034 Q-0.436 0.129 -0.799 -0.030 M-0.200 -0.050 Q-0.475 -0.076 -0.702 -0.444 M-0.196 -0.101 Q-0.455 -0.196 -0.632 -0.551 M-0.159 -0.181 Q-0.353 -0.377 -0.291 -0.805 M-0.124 -0.217 Q-0.262 -0.456 -0.168 -0.842 M-0.044 -0.255 Q-0.067 -0.530 0.257 -0.818 M0.006 -0.260 Q0.054 -0.532 0.374 -0.767 M0.091 -0.238 Q0.251 -0.463 0.684 -0.476 M0.133 -0.209 Q0.345 -0.386 0.741 -0.361 M0.184 -0.138 Q0.452 -0.207 0.791 0.061 M0.198 -0.088 Q0.474 -0.088 0.761 0.185" stroke-width="1.4" vector-effect="non-scaling-stroke"/>
<circle cx="0.000" cy="-0.030" r="0.250" fill="#fff" stroke-width="1.8" vector-effect="non-scaling-stroke"/>
<circle cx="0.000" cy="-0.050" r="0.170" fill="#ccc" stroke="#333" stroke-width="1.5" vector-effect="non-scaling-stroke"/>
<circle cx="0.000" cy="-0.070" r="0.100" stroke="#444" stroke-width="1.4" vector-effect="non-scaling-stroke"/>
</g>
<g transform="translate(265 859) rotate(56.3) scale(88 69)">
<circle cx="0.000" cy="0.000" r="1.000" fill="#fff" stroke-width="1.4" vector-effect="non-scaling-stroke"/>
<circle cx="0.000" cy="0.130" r="0.850" stroke="#1a1a1a" stroke-width="14" stroke-dasharray="2.1 1.6" stroke-linecap="butt" vector-effect="non-scaling-stroke"/>
<circle cx="0.000" cy="0.100" r="0.930" stroke-width="1" vector-effect="non-scaling-stroke"/>
<circle cx="0.000" cy="0.200" r="0.840" fill="#fff" stroke-width="2" vector-effect="non-scaling-stroke"/>
<circle cx="0.000" cy="0.220" r="0.800" stroke="#333" stroke-width="1" vector-effect="non-scaling-stroke"/>
<path d="M0.196 0.260 Q0.453 0.363 0.497 0.847 M0.170 0.325 Q0.376 0.510 0.349 0.940 M0.111 0.387 Q0.220 0.641 -0.091 1.015 M0.046 0.415 Q0.061 0.691 -0.263 0.976 M-0.040 0.416 Q-0.143 0.673 -0.627 0.717 M-0.105 0.390 Q-0.290 0.596 -0.720 0.569 M-0.167 0.331 Q-0.421 0.440 -0.795 0.129 M-0.195 0.266 Q-0.471 0.281 -0.756 -0.043 M-0.196 0.180 Q-0.453 0.077 -0.497 -0.407 M-0.170 0.115 Q-0.376 -0.070 -0.349 -0.500 M-0.111 0.053 Q-0.220 -0.201 0.091 -0.575 M-0.046 0.025 Q-0.061 -0.251 0.263 -0.536 M0.040 0.024 Q0.143 -0.233 0.627 -0.277 M0.105 0.050 Q0.290 -0.156 0.720 -0.129 M0.167 0.109 Q0.421 0.000 0.795 0.311 M0.195 0.174 Q0.471 0.159 0.756 0.483" stroke-width="1.1" vector-effect="non-scaling-stroke"/>
<path d="M-0.89 0.26 L-0.74 0.22 L-0.43 0.53 L-0.59 0.56 Z" fill="#1a1a1a" stroke-width="1" vector-effect="non-scaling-stroke"/>
<path d="M0.58 0.37 L0.90 0.08 L0.91 0.18 L0.69 0.42 Z" fill="#1a1a1a" stroke-width="1" vector-effect="non-scaling-stroke"/>
<circle cx="0.000" cy="0.280" r="0.200" fill="#fff" stroke-width="1.8" vector-effect="non-scaling-stroke"/>
<circle cx="0.000" cy="0.220" r="0.200" fill="#fff" stroke-width="1.2" vector-effect="non-scaling-stroke"/>
<circle cx="0.000" cy="0.220" r="0.130" stroke="#333" stroke-width="1.2" vector-effect="non-scaling-stroke"/>
</g>
<g transform="translate(465.2 937.1) rotate(56.3) scale(88 69)">
<circle cx="0.000" cy="0.000" r="1.000" fill="#fff" stroke-width="1.4" vector-effect="non-scaling-stroke"/>
<circle cx="0.000" cy="0.130" r="0.850" stroke="#1a1a1a" stroke-width="14" stroke-dasharray="2.1 1.6" stroke-linecap="butt" vector-effect="non-scaling-stroke"/>
<circle cx="0.000" cy="0.100" r="0.930" stroke-width="1" vector-effect="non-scaling-stroke"/>
<circle cx="0.000" cy="0.200" r="0.840" fill="#fff" stroke-width="2" vector-effect="non-scaling-stroke"/>
<circle cx="0.000" cy="0.220" r="0.800" stroke="#333" stroke-width="1" vector-effect="non-scaling-stroke"/>
<path d="M0.196 0.260 Q0.453 0.363 0.497 0.847 M0.170 0.325 Q0.376 0.510 0.349 0.940 M0.111 0.387 Q0.220 0.641 -0.091 1.015 M0.046 0.415 Q0.061 0.691 -0.263 0.976 M-0.040 0.416 Q-0.143 0.673 -0.627 0.717 M-0.105 0.390 Q-0.290 0.596 -0.720 0.569 M-0.167 0.331 Q-0.421 0.440 -0.795 0.129 M-0.195 0.266 Q-0.471 0.281 -0.756 -0.043 M-0.196 0.180 Q-0.453 0.077 -0.497 -0.407 M-0.170 0.115 Q-0.376 -0.070 -0.349 -0.500 M-0.111 0.053 Q-0.220 -0.201 0.091 -0.575 M-0.046 0.025 Q-0.061 -0.251 0.263 -0.536 M0.040 0.024 Q0.143 -0.233 0.627 -0.277 M0.105 0.050 Q0.290 -0.156 0.720 -0.129 M0.167 0.109 Q0.421 0.000 0.795 0.311 M0.195 0.174 Q0.471 0.159 0.756 0.483" stroke-width="1.1" vector-effect="non-scaling-stroke"/>
<path d="M-0.89 0.26 L-0.74 0.22 L-0.43 0.53 L-0.59 0.56 Z" fill="#1a1a1a" stroke-width="1" vector-effect="non-scaling-stroke"/>
<path d="M0.58 0.37 L0.90 0.08 L0.91 0.18 L0.69 0.42 Z" fill="#1a1a1a" stroke-width="1" vector-effect="non-scaling-stroke"/>
<circle cx="0.000" cy="0.280" r="0.200" fill="#fff" stroke-width="1.8" vector-effect="non-scaling-stroke"/>
<circle cx="0.000" cy="0.220" r="0.200" fill="#fff" stroke-width="1.2" vector-effect="non-scaling-stroke"/>
<circle cx="0.000" cy="0.220" r="0.130" stroke="#333" stroke-width="1.2" vector-effect="non-scaling-stroke"/>
</g>
<g transform="translate(368.8 1006.1) rotate(56.3) scale(88 65.5)">
<circle cx="0.000" cy="-0.400" r="1.000" fill="#fff" stroke-width="1.6" vector-effect="non-scaling-stroke"/>
<path d="M-1 0 L-1 -0.400 L1 -0.400 L1 0 Z" fill="#fff" stroke="#fff" stroke-width="0" vector-effect="non-scaling-stroke"/>
<path d="M-1 0 L-1 -0.400 M1 0 L1 -0.400" stroke-width="1.6" vector-effect="non-scaling-stroke"/>
<circle cx="0.000" cy="0.000" r="1.000" fill="#fff" stroke-width="1.6" vector-effect="non-scaling-stroke"/>
<circle cx="0.000" cy="0.000" r="0.930" stroke="#444" stroke-width="1" vector-effect="non-scaling-stroke"/>
<circle cx="0.000" cy="0.000" r="0.850" stroke="#222" stroke-width="2.2" vector-effect="non-scaling-stroke"/>
<path d="M0.789 -0.316 A0.810 0.810 0 1 1 -0.789 -0.316" stroke-width="1.5" vector-effect="non-scaling-stroke"/>
<path d="M0.764 -0.372 A0.775 0.775 0 1 1 -0.764 -0.372" stroke-width="1" vector-effect="non-scaling-stroke"/>
<path d="M-0.767 0.369 L-0.653 0.471" stroke-width="2.4" vector-effect="non-scaling-stroke"/>
<path d="M-0.46 0.74 L-0.45 0.40" stroke-width="1" vector-effect="non-scaling-stroke"/>
</g>
<g transform="translate(168.6 928) rotate(56.3) scale(88 65.5)">
<circle cx="0.000" cy="-0.400" r="1.000" fill="#fff" stroke-width="1.6" vector-effect="non-scaling-stroke"/>
<path d="M-1 0 L-1 -0.400 L1 -0.400 L1 0 Z" fill="#fff" stroke="#fff" stroke-width="0" vector-effect="non-scaling-stroke"/>
<path d="M-1 0 L-1 -0.400 M1 0 L1 -0.400" stroke-width="1.6" vector-effect="non-scaling-stroke"/>
<circle cx="0.000" cy="0.000" r="1.000" fill="#fff" stroke-width="1.6" vector-effect="non-scaling-stroke"/>
<circle cx="0.000" cy="0.000" r="0.930" stroke="#444" stroke-width="1" vector-effect="non-scaling-stroke"/>
<circle cx="0.000" cy="0.000" r="0.850" stroke="#222" stroke-width="2.2" vector-effect="non-scaling-stroke"/>
<path d="M0.789 -0.316 A0.810 0.810 0 1 1 -0.789 -0.316" stroke-width="1.5" vector-effect="non-scaling-stroke"/>
<path d="M0.764 -0.372 A0.775 0.775 0 1 1 -0.764 -0.372" stroke-width="1" vector-effect="non-scaling-stroke"/>
<path d="M-0.767 0.369 L-0.653 0.471" stroke-width="2.4" vector-effect="non-scaling-stroke"/>
<path d="M-0.46 0.74 L-0.45 0.40" stroke-width="1" vector-effect="non-scaling-stroke"/>
</g>
<!-- 08_axles.py -->
<path d="M389.7 678.9C389.7 673.7 400.1 673.7 400.1 678.9L398.8 681.1L391 681.1Z" fill="#fff" stroke-width="1.3"/>
<path d="M391.6 677.2L398.1 677.2M394.9 675.4L394.9 679.3" stroke-width="1"/>
<path d="M392 681.1L392.8 697.8L397.7 697.8L398 681.1" fill="#fff" stroke-width="1.2"/>
<path d="M395.2 697.8L395.9 704.3" stroke-width="1"/>
<path d="M403.3 684.1C403.3 678.9 413.7 678.9 413.7 684.1L412.4 686.3L404.6 686.3Z" fill="#fff" stroke-width="1.3"/>
<path d="M405.3 682.4L411.8 682.4M408.5 680.6L408.5 684.5" stroke-width="1"/>
<path d="M405.7 686.3L406.4 703L411.4 703L411.7 686.3" fill="#fff" stroke-width="1.2"/>
<path d="M408.9 703L409.6 709.5" stroke-width="1"/>
<ellipse cx="396.2" cy="707.9" rx="4.9" ry="2.7" fill="#1a1a1a" stroke-width="1"/>
<ellipse cx="396.2" cy="707.9" rx="1.8" ry="0.9" fill="#bbb" stroke-width="1"/>
<ellipse cx="409.2" cy="712.7" rx="4.9" ry="2.7" fill="#1a1a1a" stroke-width="1"/>
<ellipse cx="409.2" cy="712.7" rx="1.8" ry="0.9" fill="#bbb" stroke-width="1"/>
<path d="M382.5 729L392.9 721.2L420.9 731L409.8 739.7Z" fill="#fff" stroke-width="1.6"/>
<ellipse cx="396.8" cy="727" rx="2.6" ry="1.6" fill="#ccc"/>
<ellipse cx="409.8" cy="731.6" rx="2.6" ry="1.6" fill="#ccc"/>
<path d="M396.6 710.8L397.1 721.2M409.6 715.7L409.8 726.4" stroke-width="1"/>
<path d="M397.1 738.1L397.9 756.3"/>
<path d="M410.1 741.4L410.9 758.9" stroke-width="1" stroke-dasharray="8 3"/>
<path d="M577.2 751.6C577.2 746.4 587.6 746.4 587.6 751.6L586.3 753.8L578.5 753.8Z" fill="#fff" stroke-width="1.3"/>
<path d="M579.1 749.9L585.6 749.9M582.4 748.1L582.4 752" stroke-width="1"/>
<path d="M579.5 753.8L580.3 770.5L585.2 770.5L585.5 753.8" fill="#fff" stroke-width="1.2"/>
<path d="M582.7 770.5L583.4 777" stroke-width="1"/>
<path d="M590.8 756.8C590.8 751.6 601.2 751.6 601.2 756.8L599.9 759L592.1 759Z" fill="#fff" stroke-width="1.3"/>
<path d="M592.8 755.1L599.3 755.1M596 753.3L596 757.2" stroke-width="1"/>
<path d="M593.2 759L593.9 775.7L598.9 775.7L599.2 759" fill="#fff" stroke-width="1.2"/>
<path d="M596.4 775.7L597.1 782.2" stroke-width="1"/>
<ellipse cx="583.7" cy="780.6" rx="4.9" ry="2.7" fill="#1a1a1a" stroke-width="1"/>
<ellipse cx="583.7" cy="780.6" rx="1.8" ry="0.9" fill="#bbb" stroke-width="1"/>
<ellipse cx="596.7" cy="785.4" rx="4.9" ry="2.7" fill="#1a1a1a" stroke-width="1"/>
<ellipse cx="596.7" cy="785.4" rx="1.8" ry="0.9" fill="#bbb" stroke-width="1"/>
<path d="M570 801.7L580.4 793.9L608.4 803.7L597.3 812.4Z" fill="#fff" stroke-width="1.6"/>
<ellipse cx="584.3" cy="799.7" rx="2.6" ry="1.6" fill="#ccc"/>
<ellipse cx="597.3" cy="804.3" rx="2.6" ry="1.6" fill="#ccc"/>
<path d="M584.1 783.5L584.6 793.9M597.1 788.4L597.3 799.1" stroke-width="1"/>
<path d="M584.6 810.8L585.4 829"/>
<path d="M597.6 814.1L598.4 831.6" stroke-width="1" stroke-dasharray="8 3"/>
<path d="M392.3 759.6L396.8 755.7L422.2 766.1L422.8 773.9L411.1 782.4L409.8 777.8L400.7 774.6" fill="#fff" stroke-width="1.4"/>
<path d="M392.3 759.6L418.3 770.4L422.2 766.1M418.3 770.4L418.9 777.2M400.7 770.7L411.1 775.2L411.1 782.4M403.3 773.3L418.9 773.9" stroke-width="1.2"/>
<ellipse cx="398.1" cy="760.9" rx="2.9" ry="1.6"/>
<ellipse cx="411.1" cy="766.1" rx="2.9" ry="1.6"/>
<path d="M396.2 760L400.1 761.8M399.7 760L396.6 761.8M409.2 765.2L413.1 767M412.7 765.2L409.6 767" stroke-width="0.9"/>
<ellipse cx="388.3" cy="771.3" rx="9.8" ry="13" transform="rotate(-34 388.3 771.3)" fill="#fff" stroke-width="1.5"/>
<path d="M375.3 768.1C377.3 762.8 383.8 758.9 389 760.2" stroke-width="1.3"/>
<path d="M368.4 777.8L381.2 768.1C387.7 766.1 392.9 772 391.6 778.5L377.9 789.5" fill="#fff" stroke-width="1.3"/>
<ellipse cx="372.7" cy="783.4" rx="5.9" ry="7.6" transform="rotate(-34 372.7 783.4)" fill="#fff" stroke-width="1.6"/>
<ellipse cx="372.7" cy="783.4" rx="3.6" ry="4.9" transform="rotate(-34 372.7 783.4)" fill="#555" stroke-width="1"/>
<ellipse cx="362.3" cy="792.8" rx="7.8" ry="11.5" transform="rotate(-34 362.3 792.8)" fill="#fff" stroke-width="1.2"/>
<ellipse cx="357.8" cy="795.4" rx="9.8" ry="13.7" transform="rotate(-34 357.8 795.4)" fill="#fff" stroke-width="1.3"/>
<ellipse cx="354.5" cy="797.3" rx="9.4" ry="13" transform="rotate(-34 354.5 797.3)" fill="#fff" stroke-width="1.3"/>
<ellipse cx="349.9" cy="800" rx="11.5" ry="15.4" transform="rotate(-34 349.9 800)" fill="#fff" stroke-width="1.4"/>
<ellipse cx="348.9" cy="800.6" rx="9.9" ry="13.3" transform="rotate(-34 348.9 800.6)" fill="#fff" stroke="#222" stroke-width="3.2"/>
<ellipse cx="348.4" cy="801" rx="6.5" ry="9.1" transform="rotate(-34 348.4 801)" fill="#fff" stroke-width="1.8"/>
<ellipse cx="348.1" cy="801.5" rx="4.9" ry="7.2" transform="rotate(-34 348.1 801.5)" stroke-width="1"/>
<path d="M424 764.5 L590.5 650" stroke="#3a3a3a" stroke-width="1.1" stroke-dasharray="13 5" stroke-linecap="butt"/>
<path d="M417 786 L604 656.5" stroke="#3a3a3a" stroke-width="1.1" stroke-dasharray="13 5" stroke-linecap="butt"/>
<path d="M323.9 815.6L334.3 809.7" stroke="#3a3a3a" stroke-width="1" stroke-dasharray="14 4" stroke-linecap="butt"/>
<path d="M363 787.6L366.9 785.2" stroke-width="1"/>
<path d="M570.5 836.8L581 828.3L609.6 838.7L609.6 847.2L601.1 851.7L599.8 860.2L593.3 862.8" fill="#fff" stroke-width="1.4"/>
<path d="M570.5 836.8L571.2 844.6L577.7 847.2M570.5 836.8L599.8 847.2L609.6 838.7M599.8 847.2L600.5 860.2M571.2 840.7L577.7 843.3M601.1 851.7L601.1 847.2" stroke-width="1.2"/>
<ellipse cx="584.5" cy="833.5" rx="3.1" ry="1.6"/>
<ellipse cx="598.5" cy="838.1" rx="3.1" ry="1.6"/>
<path d="M582.3 832.6L586.8 834.4M586.6 832.6L582.6 834.4M596.3 837.1L600.9 839M600.5 837.1L596.7 839" stroke-width="0.9"/>
<ellipse cx="589.4" cy="849.8" rx="9.8" ry="13" transform="rotate(-34 589.4 849.8)" fill="#fff" stroke-width="1.5"/>
<path d="M576.4 845.9C579 840.7 585.5 837.4 590.7 838.7" stroke-width="1.3"/>
<path d="M567.9 854.3L581 845.2C588.1 843.3 593.3 849.1 592 855.6L578.3 866" fill="#fff" stroke-width="1.3"/>
<ellipse cx="572.8" cy="859.9" rx="5.9" ry="7.6" transform="rotate(-34 572.8 859.9)" fill="#fff" stroke-width="1.6"/>
<ellipse cx="572.8" cy="859.9" rx="3.6" ry="4.9" transform="rotate(-34 572.8 859.9)" fill="#555" stroke-width="1"/>
<ellipse cx="561.4" cy="870.6" rx="7.8" ry="11.5" transform="rotate(-34 561.4 870.6)" fill="#fff" stroke-width="1.2"/>
<ellipse cx="556.9" cy="873.2" rx="9.8" ry="13.7" transform="rotate(-34 556.9 873.2)" fill="#fff" stroke-width="1.3"/>
<ellipse cx="553.6" cy="875.2" rx="9.4" ry="13" transform="rotate(-34 553.6 875.2)" fill="#fff" stroke-width="1.3"/>
<ellipse cx="549.1" cy="877.8" rx="11.5" ry="15.4" transform="rotate(-34 549.1 877.8)" fill="#fff" stroke-width="1.4"/>
<ellipse cx="548" cy="878.4" rx="9.9" ry="13.3" transform="rotate(-34 548 878.4)" fill="#fff" stroke="#222" stroke-width="3.2"/>
<ellipse cx="547.5" cy="878.8" rx="6.5" ry="9.1" transform="rotate(-34 547.5 878.8)" fill="#fff" stroke-width="1.8"/>
<ellipse cx="547.2" cy="879.3" rx="4.9" ry="7.2" transform="rotate(-34 547.2 879.3)" stroke-width="1"/>
<path d="M611 840 L700 778" stroke="#3a3a3a" stroke-width="1.1" stroke-dasharray="13 5" stroke-linecap="butt"/>
<path d="M604 860 L709 784" stroke="#3a3a3a" stroke-width="1.1" stroke-dasharray="13 5" stroke-linecap="butt"/>
<path d="M510 883.6L515.2 890" stroke-width="1.2"/>
<path d="M529.5 890L534.7 886.9M562.1 864.1L566 861.7" stroke-width="1"/>
<path d="M767.4 457.3C767.4 453.8 774.5 453.8 774.5 457.3L773.6 458.7L768.3 458.7Z" fill="#fff" stroke-width="1.2"/>
<ellipse cx="771" cy="456.1" rx="1.8" ry="0.9" fill="#333" stroke-width="1"/>
<path d="M769 458.7L769.4 468L772.6 468L773 458.7" fill="#fff"/>
<path d="M771.1 468L771.5 474.5" stroke-width="1"/>
<path d="M775.9 460.6C775.9 457.1 782.9 457.1 782.9 460.6L782 462L776.8 462Z" fill="#fff" stroke-width="1.2"/>
<ellipse cx="779.4" cy="459.4" rx="1.8" ry="0.9" fill="#333" stroke-width="1"/>
<path d="M777.5 462L777.9 471.2L781.1 471.2L781.5 462" fill="#fff"/>
<path d="M779.5 471.2L779.9 477.8" stroke-width="1"/>
<ellipse cx="771.6" cy="478.7" rx="3.5" ry="1.8" fill="#1a1a1a" stroke-width="1"/>
<ellipse cx="779.7" cy="481.7" rx="3.5" ry="1.8" fill="#1a1a1a" stroke-width="1"/>
<path d="M765.1 491L772.9 485.6L789.8 492.7L782 498.2Z" fill="#fff" stroke-width="1.4"/>
<ellipse cx="772" cy="489.9" rx="1.4" ry="0.8" fill="#333" stroke-width="1"/>
<ellipse cx="780.7" cy="493.4" rx="1.4" ry="0.8" fill="#333" stroke-width="1"/>
<path d="M772 480.4L772.4 489.5M780.1 483.6L780.5 492.7" stroke-width="1"/>
<path d="M772.9 497.3L773.9 516.8M781 498.6L781.8 519.4" stroke-width="1"/>
<path d="M766.4 518.1L774.2 513.6L791.8 520.1L791.8 524.6L783.3 530.1L766.4 523.3Z" fill="#fff" stroke-width="1.4"/>
<path d="M766.4 518.1L783.3 525.3L791.8 520.1M783.3 525.3L783.3 530.1M767.7 520.1L783.3 527"/>
<path d="M772.9 514.2C772.9 507.7 779.4 505.1 784.6 507C789.8 509 791.1 514.2 789.8 519.4" fill="#fff" stroke-width="1.3"/>
<path d="M783.3 507.7L788.5 503.8C791.8 503.1 794.4 505.7 794 509L789.8 514.2" fill="#fff" stroke-width="1.2"/>
<ellipse cx="791.1" cy="506.7" rx="2.9" ry="3.9" transform="rotate(-34 791.1 506.7)"/>
<path d="M772.9 516.8L778.1 514.9L784.6 517.5L779.4 520.1Z" stroke-width="1"/>
<ellipse cx="810.2" cy="495" rx="5.6" ry="8.2" transform="rotate(-34 810.2 495)" fill="#fff" stroke-width="1.2"/>
<ellipse cx="806.9" cy="496.9" rx="7" ry="9.8" transform="rotate(-34 806.9 496.9)" fill="#fff" stroke-width="1.3"/>
<ellipse cx="804.6" cy="498.3" rx="6.7" ry="9.4" transform="rotate(-34 804.6 498.3)" fill="#fff" stroke-width="1.3"/>
<ellipse cx="801.3" cy="500.1" rx="8.2" ry="11.1" transform="rotate(-34 801.3 500.1)" fill="#fff" stroke-width="1.4"/>
<ellipse cx="800.5" cy="500.6" rx="7.1" ry="9.6" transform="rotate(-34 800.5 500.6)" fill="#fff" stroke="#222" stroke-width="3.2"/>
<ellipse cx="800.2" cy="500.9" rx="4.7" ry="6.6" transform="rotate(-34 800.2 500.9)" fill="#fff" stroke-width="1.8"/>
<ellipse cx="800" cy="501.3" rx="3.6" ry="5.2" transform="rotate(-34 800 501.3)" stroke-width="1"/>
<path d="M887.1 505.1C887.1 501.6 894.2 501.6 894.2 505.1L893.3 506.6L888.1 506.6Z" fill="#fff" stroke-width="1.2"/>
<ellipse cx="890.7" cy="504" rx="1.8" ry="0.9" fill="#333" stroke-width="1"/>
<path d="M888.7 506.6L889.1 515.8L892.4 515.8L892.7 506.6" fill="#fff"/>
<path d="M890.8 515.8L891.2 522.3" stroke-width="1"/>
<path d="M895.6 508.4C895.6 504.9 902.6 504.9 902.6 508.4L901.7 509.8L896.5 509.8Z" fill="#fff" stroke-width="1.2"/>
<ellipse cx="899.1" cy="507.2" rx="1.8" ry="0.9" fill="#333" stroke-width="1"/>
<path d="M897.2 509.8L897.6 519.1L900.8 519.1L901.2 509.8" fill="#fff"/>
<path d="M899.3 519.1L899.6 525.6" stroke-width="1"/>
<ellipse cx="891.3" cy="526.5" rx="3.5" ry="1.8" fill="#1a1a1a" stroke-width="1"/>
<ellipse cx="899.4" cy="529.5" rx="3.5" ry="1.8" fill="#1a1a1a" stroke-width="1"/>
<path d="M884.8 538.8L892.6 533.4L909.5 540.5L901.7 546Z" fill="#fff" stroke-width="1.4"/>
<ellipse cx="891.7" cy="537.7" rx="1.4" ry="0.8" fill="#333" stroke-width="1"/>
<ellipse cx="900.4" cy="541.2" rx="1.4" ry="0.8" fill="#333" stroke-width="1"/>
<path d="M891.7 528.2L892.1 537.3M899.8 531.4L900.2 540.5" stroke-width="1"/>
<path d="M892.6 545.1L893.7 564.6M900.7 546.4L901.5 567.2" stroke-width="1"/>
<path d="M885.5 564.6L893.3 559.7L910.2 566.2L910.2 571.1L902.4 576.3L885.7 569.8Z" fill="#fff" stroke-width="1.4"/>
<path d="M885.5 564.6L902.4 571.4L910.2 566.2M902.4 571.4L902.4 576.3M886.8 566.6L902.4 573.1"/>
<path d="M903.7 559.4C905 555.5 910.2 554.2 912.8 556.8C915.4 559.4 914.7 565.9 911.5 569.8" fill="#fff" stroke-width="1.3"/>
<path d="M908.2 556.2L916.7 553.6C920.6 553.6 922.6 556.8 921.3 560.7L914.1 565.9" fill="#fff" stroke-width="1.2"/>
<ellipse cx="919.3" cy="557.5" rx="2.9" ry="4.2" transform="rotate(-34 919.3 557.5)"/>
<path d="M890.7 563.3L895.9 561.4L902.4 564L897.2 566.6Z" stroke-width="1"/>
<ellipse cx="936.7" cy="545.8" rx="5.6" ry="8.2" transform="rotate(-34 936.7 545.8)" fill="#fff" stroke-width="1.2"/>
<ellipse cx="933.4" cy="547.7" rx="7" ry="9.8" transform="rotate(-34 933.4 547.7)" fill="#fff" stroke-width="1.3"/>
<ellipse cx="931" cy="549.1" rx="6.7" ry="9.4" transform="rotate(-34 931 549.1)" fill="#fff" stroke-width="1.3"/>
<ellipse cx="927.8" cy="551" rx="8.2" ry="11.1" transform="rotate(-34 927.8 551)" fill="#fff" stroke-width="1.4"/>
<ellipse cx="927" cy="551.4" rx="7.1" ry="9.6" transform="rotate(-34 927 551.4)" fill="#fff" stroke="#222" stroke-width="3.2"/>
<ellipse cx="926.6" cy="551.7" rx="4.7" ry="6.6" transform="rotate(-34 926.6 551.7)" fill="#fff" stroke-width="1.8"/>
<ellipse cx="926.5" cy="552.1" rx="3.6" ry="5.2" transform="rotate(-34 926.5 552.1)" stroke-width="1"/>
<path d="M893.3 573.7L895.9 640" stroke="#3a3a3a" stroke-width="1" stroke-dasharray="10 3 3 3" stroke-linecap="butt"/>
<path d="M901.7 576.3L903.7 640" stroke="#3a3a3a" stroke-width="1" stroke-dasharray="10 3 3 3" stroke-linecap="butt"/>
<!-- 09_right_misc.py -->
<path d="M731.2 544.1L737.8 539.2L764.1 548.7L758.3 554.8L750.1 552L714.3 577.7L704.6 573.4L704.6 570.8L735.4 548.3Z" fill="#fff" stroke-width="1.4"/>
<path d="M704.6 570.8L714.1 575.1L750.1 549.6L758.3 552.7L763.8 549.1M714.1 575.1L714.3 577.7" stroke-width="1"/>
<ellipse cx="736.7" cy="543.5" rx="1.8" ry="1" fill="#888" stroke-width="1"/>
<ellipse cx="757.3" cy="550.7" rx="1.8" ry="1" fill="#888" stroke-width="1"/>
<path d="M731.8 521C731.8 518.1 738.5 518.1 738.5 521L737 523.3L733.3 523.3Z" fill="#333"/>
<path d="M733.7 523.3L734 527.5L736.6 527.5L736.7 523.3" fill="#fff" stroke-width="1"/>
<path d="M735.3 527.5L736.2 538.6" stroke-width="1"/>
<path d="M751.3 528.5C751.3 525.7 758.1 525.7 758.1 528.5L756.5 530.9L752.9 530.9Z" fill="#333"/>
<path d="M753.2 530.9L753.5 535L756.1 535L756.2 530.9" fill="#fff" stroke-width="1"/>
<path d="M754.8 535L755.7 546.1" stroke-width="1"/>
<path d="M711.1 525.3L716.3 521.8L719.5 523.3L719.5 525.9L714.3 529.8Z" fill="#fff"/>
<ellipse cx="714.1" cy="527" rx="3.1" ry="2.2" transform="rotate(-34 714.1 527)" fill="#333" stroke-width="1"/>
<path d="M700 536.3L711.1 528.5" stroke-width="1"/>
<path d="M803.2 582.8C809.9 576.3 821.7 566.6 841.2 565.9C858.1 565.3 871.1 571.1 870.5 582.8C869.8 592 860.7 597.2 851 602.6" stroke="#141414" stroke-width="10" stroke-linecap="butt"/>
<path d="M803.2 582.8C809.9 576.3 821.7 566.6 841.2 565.9C858.1 565.3 871.1 571.1 870.5 582.8C869.8 592 860.7 597.2 851 602.6" stroke="#333" stroke-width="7.5" stroke-dasharray="0.5 1.9" stroke-linecap="butt"/>
<ellipse cx="802.4" cy="583.5" rx="2.2" ry="3.9" transform="rotate(-34 802.4 583.5)" fill="#bbb" stroke-width="1.3"/>
<ellipse cx="849.8" cy="603" rx="2.2" ry="3.9" transform="rotate(-34 849.8 603)" fill="#bbb" stroke-width="1.3"/>
<ellipse cx="787.8" cy="592" rx="4.4" ry="5.5" transform="rotate(-20 787.8 592)" fill="#fff" stroke-width="1.3"/>
<ellipse cx="787.8" cy="592" rx="2.3" ry="3.1" transform="rotate(-20 787.8 592)"/>
<path d="M785.2 586.8L778 589.4L777.7 599.1L783.9 601.1Z" stroke-width="1.2"/>
<path d="M781.3 588.1L781 600" stroke-width="1"/>
<ellipse cx="836.6" cy="611.5" rx="4.4" ry="5.5" transform="rotate(-20 836.6 611.5)" fill="#fff" stroke-width="1.3"/>
<ellipse cx="836.6" cy="611.5" rx="2.3" ry="3.1" transform="rotate(-20 836.6 611.5)"/>
<path d="M839.2 606.3L846.4 608.9L846.8 618.6L840.5 620.6Z" stroke-width="1.2"/>
<path d="M843.1 607.6L843.4 619.6" stroke-width="1"/>
<path d="M793 590.7L799.5 586.1M842.5 608.9L847.7 605" stroke-width="1"/>
<path d="M780 617.3L824.3 620.9L831.4 615.4" stroke="#3a3a3a" stroke-width="1" stroke-dasharray="12 4 3 4" stroke-linecap="butt"/>
<path d="M804.7 624.5L895.9 633.4" stroke="#3a3a3a" stroke-width="1" stroke-dasharray="12 4 3 4" stroke-linecap="butt"/>
<path d="M780 631L787.8 625.8L804.7 624.5" stroke="#3a3a3a" stroke-width="1" stroke-dasharray="12 4 3 4" stroke-linecap="butt"/>
<path d="M762.2 479.1L763.8 548.1L767 600" stroke="#3a3a3a" stroke-width="1" stroke-dasharray="12 4 3 4" stroke-linecap="butt"/>
<path d="M740.4 440L742.3 501.2" stroke="#3a3a3a" stroke-width="1" stroke-dasharray="12 4 3 4" stroke-linecap="butt"/>
<path d="M743 523.3L744.9 600" stroke="#3a3a3a" stroke-width="1" stroke-dasharray="12 4 3 4" stroke-linecap="butt"/>
<path d="M736.5 565L737.8 600" stroke="#555" stroke-width="1" stroke-dasharray="12 4 3 4" stroke-linecap="butt"/>
<path d="M756.2 557.2L757.9 600" stroke="#555" stroke-width="1" stroke-dasharray="12 4 3 4" stroke-linecap="butt"/>
<path d="M760.5 440L761.8 458.2" stroke="#555" stroke-width="1" stroke-dasharray="12 4 3 4" stroke-linecap="butt"/>
<path d="M701.3 472.5L705.2 600" stroke="#3a3a3a" stroke-width="1" stroke-dasharray="12 4 3 4" stroke-linecap="butt"/>
<!-- 10_leftmisc.py -->
<path d="M468.2 529.5C472.8 532.1 473.4 539.9 469.5 543.2C466.3 545.8 461.7 545.8 459.1 543.8" stroke="#555" stroke-width="1"/>
<text x="463.7" y="540.2" font-size="7.5" font-style="italic" fill="#444" stroke="none">4</text>
<path d="M467.6 544.1L487.1 551.9M467.6 544.1L475.4 564M469.5 544.1L491 570.9M466.9 544.5L476.7 582.9" stroke="#333" stroke-width="1"/>
<path d="M487.8 551.9L493.2 554.5" stroke="#222" stroke-width="3" stroke-linecap="butt"/>
<path d="M493.2 552.7L500.1 556.1L500.1 559L493.2 556.3Z" fill="#fff" stroke="#333" stroke-width="1"/>
<path d="M475.4 564L478.9 565.7" stroke="#222" stroke-width="3" stroke-linecap="butt"/>
<path d="M478.9 563.9L483.2 566.2L483.2 569.1L478.9 567.5Z" fill="#fff" stroke="#333" stroke-width="1"/>
<path d="M491.4 570.9L495.4 572.9" stroke="#222" stroke-width="3" stroke-linecap="butt"/>
<path d="M495.4 571.1L500.5 573.7L500.5 576.5L495.4 574.7Z" fill="#fff" stroke="#333" stroke-width="1"/>
<path d="M477.1 582.9L480.2 584.5" stroke="#222" stroke-width="3" stroke-linecap="butt"/>
<path d="M480.2 582.6L484.2 584.7L484.2 587.6L480.2 586.3Z" fill="#fff" stroke="#333" stroke-width="1"/>
<path d="M500.8 575.1L507.3 579M485.2 586.8C491.7 589.4 495.6 593.3 502.1 590.7" stroke="#333" stroke-width="1"/>
<path d="M522.3 585.2L525.5 590.5" stroke="#555" stroke-width="1"/>
<ellipse cx="526.8" cy="578.5" rx="6.8" ry="12.8" transform="rotate(12 526.8 578.5)" fill="#fff" stroke="#555" stroke-width="1.2"/>
<ellipse cx="528.1" cy="577.4" rx="6.8" ry="12.8" transform="rotate(12 528.1 577.4)" fill="#fff" stroke="#444" stroke-width="1.3"/>
<ellipse cx="528.4" cy="578.1" rx="3.4" ry="6.8" transform="rotate(12 528.4 578.1)" stroke="#444" stroke-width="1.4"/>
<ellipse cx="528.9" cy="578.5" rx="1.8" ry="4.4" transform="rotate(12 528.9 578.5)" stroke="#555" stroke-width="1"/>
<ellipse cx="528.8" cy="569.6" rx="0.9" ry="1.2" fill="#666" stroke="#555" stroke-width="1"/>
<ellipse cx="527.1" cy="586.6" rx="0.9" ry="1.2" fill="#666" stroke="#555" stroke-width="1"/>
<path d="M507.3 596.6L510.5 601.8" stroke="#555" stroke-width="1"/>
<ellipse cx="511.8" cy="589.8" rx="6.8" ry="12.8" transform="rotate(12 511.8 589.8)" fill="#fff" stroke="#555" stroke-width="1.2"/>
<ellipse cx="513.1" cy="588.8" rx="6.8" ry="12.8" transform="rotate(12 513.1 588.8)" fill="#fff" stroke="#444" stroke-width="1.3"/>
<ellipse cx="513.4" cy="589.4" rx="3.4" ry="6.8" transform="rotate(12 513.4 589.4)" stroke="#444" stroke-width="1.4"/>
<ellipse cx="513.9" cy="589.8" rx="1.8" ry="4.4" transform="rotate(12 513.9 589.8)" stroke="#555" stroke-width="1"/>
<ellipse cx="513.8" cy="581" rx="0.9" ry="1.2" fill="#666" stroke="#555" stroke-width="1"/>
<ellipse cx="512.1" cy="597.9" rx="0.9" ry="1.2" fill="#666" stroke="#555" stroke-width="1"/>
<path d="M551.5 583.9C547.9 584.2 547.9 590.7 550.9 591.8L569.8 600.5L571.1 591.4Z" fill="#fff" stroke="#555"/>
<ellipse cx="570.8" cy="595.9" rx="5.5" ry="6.5" transform="rotate(10 570.8 595.9)" fill="#fff" stroke="#555" stroke-width="1.2"/>
<path d="M565.2 589.2C562.6 592 562.6 595.9 564.6 598.5" stroke="#555" stroke-width="1"/>
<path d="M535.9 595C532.3 595.3 532.3 601.8 535.3 602.8L554.1 611.5L555.5 602.4Z" fill="#fff" stroke="#555"/>
<ellipse cx="555.2" cy="607" rx="5.5" ry="6.5" transform="rotate(10 555.2 607)" fill="#fff" stroke="#555" stroke-width="1.2"/>
<path d="M549.6 600.2C547 603.1 547 607 548.9 609.6" stroke="#555" stroke-width="1"/>
<ellipse cx="584.7" cy="598.8" rx="4.2" ry="6.8" transform="rotate(12 584.7 598.8)" fill="#fff" stroke="#555" stroke-width="1.3"/>
<ellipse cx="585" cy="598.8" rx="2.5" ry="4.7" transform="rotate(12 585 598.8)" stroke="#555"/>
<ellipse cx="567.8" cy="610.5" rx="4.2" ry="6.8" transform="rotate(12 567.8 610.5)" fill="#fff" stroke="#555" stroke-width="1.3"/>
<ellipse cx="568.1" cy="610.5" rx="2.5" ry="4.7" transform="rotate(12 568.1 610.5)" stroke="#555"/>
<path d="M504.7 560.8L521 567.3" stroke="#555" stroke-width="1" stroke-dasharray="10 3" stroke-linecap="butt"/>
<path d="M534.6 572.5L610 599.8" stroke="#555" stroke-width="1" stroke-dasharray="10 3" stroke-linecap="butt"/>
<path d="M535.3 582.9L610 611.5" stroke="#555" stroke-width="1" stroke-dasharray="10 3" stroke-linecap="butt"/>
<path d="M519.7 588.1L548.9 599.8L585.4 614.1" stroke="#555" stroke-width="1" stroke-dasharray="10 3" stroke-linecap="butt"/>
<path d="M519.7 599.8L585.4 624.6" stroke="#555" stroke-width="1" stroke-dasharray="10 3" stroke-linecap="butt"/>
<path d="M576.3 593.3L610 605" stroke="#555" stroke-width="1" stroke-dasharray="10 3" stroke-linecap="butt"/>
<path d="M591.3 648.6L594.5 649L593.2 651.6ZM603.6 653.9L606.9 654.2L605.6 656.9Z" fill="#222" stroke-width="1"/>
<!-- 11_pan.py -->
<path d="M591.4 989L619.9 968.7L664.6 937L693.9 919.1L947.1 1017.7L844.6 1087.6L715.1 1087.5L645.1 1059C612.5 1042.7 593 1018.3 591.4 989Z" fill="#fff" stroke="#fff" stroke-width="0.1"/>
<path d="M591.4 989L619.9 968.7L622.6 969.5C622.6 980.9 628.8 989 634.5 988.2C641 986.6 642.7 977.6 641.8 964.6L639.9 954L645.1 950.8L647.5 952.4C648.3 964.6 653.2 971.9 659.7 971.1C667.1 969.5 668.7 958.1 667.1 948.3L664.6 937L690.7 919.9C692.3 918.7 694.7 918.7 697.2 919.4L703.7 921.5" stroke-width="1.6"/>
<path d="M593.8 989.4L620.7 970.6M666.2 938.6L691.5 922M641.8 954L644.3 964.6C645.1 977.6 642.7 985.8 635.3 986.6M666.2 950C667.9 958.1 666.2 967.9 659.7 969.5" stroke-width="1"/>
<path d="M703.7 921.5L932.5 1010.3L947.1 1017.7" stroke-width="1.8"/>
<path d="M704.5 924.3L929.9 1012.6" stroke-width="1"/>
<path d="M692.3 920.7C692.3 937 698.8 953.2 710.2 964.6C718.3 972.8 731.3 984.1 744.4 990.7L780 1001.2L814.3 1011.8" stroke-width="1.3"/>
<path d="M697.2 920.7C697.2 935.3 701.2 948.3 708.6 958.9" stroke-width="1.2"/>
<path d="M701.2 921.5C701.2 935.3 703.7 946.7 710.2 958.1C720 971.1 733 980.9 744.4 987.4" stroke-width="1"/>
<path d="M704 922.6L705 950.8" stroke-width="1.2"/>
<path d="M705.3 964.6L641.8 1008.6M742.7 992.3L700.4 1020" stroke-width="1"/>
<path d="M591.4 989L594.6 992.3L693.9 1027.3L836.5 1084.4L844.6 1087.6" stroke-width="1.8"/>
<path d="M604.4 993.9L693.9 1025.2L759 1049.2" stroke-width="1"/>
<ellipse cx="601.2" cy="992" rx="2.3" ry="1.6" fill="#333" stroke-width="1"/>
<path d="M591.4 989C591.4 1003.7 599.5 1023.2 612.5 1037.9C622.3 1049.2 633.7 1055.8 645.1 1059L693.9 1080L715.1 1087.5" stroke-width="1.4"/>
<path d="M593.8 997.2C596.3 1013.4 606 1029.7 619.1 1041.1C628.8 1049.2 637 1054.1 645.1 1056.6" stroke-width="1"/>
<path d="M641.8 1057.4L693.9 1077.7" stroke-width="1"/>
<ellipse cx="698" cy="1025.3" rx="7.5" ry="4.1" fill="#fff" stroke-width="1.4"/>
<ellipse cx="698" cy="1024.8" rx="4.9" ry="2.4" stroke-width="1.2"/>
<ellipse cx="698" cy="1024.5" rx="2.3" ry="1.1" stroke-width="1"/>
<ellipse cx="763.9" cy="1050.9" rx="7.5" ry="4.1" fill="#fff" stroke-width="1.4"/>
<ellipse cx="763.9" cy="1050.4" rx="4.9" ry="2.4" stroke-width="1.2"/>
<ellipse cx="763.9" cy="1050.1" rx="2.3" ry="1.1" stroke-width="1"/>
<path d="M708.6 1031.3L739.5 1010.2C746 1006.9 759 1004.5 767.1 1005.3L780 1008.6" stroke-width="1.8"/>
<path d="M720 1037L742.7 1021.6C750.9 1018.3 762.3 1018.3 772 1021.6L780 1024.8" stroke-width="1.4"/>
<path d="M737 1011.5L737 1022.4" stroke-width="1"/>
<path d="M749.2 1048.4L780 1028.4M756.6 1051.2L780 1036.6" stroke-width="1.8"/>
<path d="M720.6 1087.3C742.7 1093.2 775.3 1097.2 795.8 1097.6"/>
<path d="M720.3 1087.3L718.3 1080C720 1067.1 731.3 1059 746 1059C759 1059 770.4 1067.1 780 1080" stroke-width="1.3"/>
<path d="M726.5 1080C729.7 1070.4 736.2 1063.9 746 1063.1C755.8 1063.1 765.5 1068.8 772 1080" stroke-width="1.3"/>
<path d="M812.1 1021.7C813.7 1004.6 828.3 988.3 844.6 987.5C864.1 986.7 886.9 1011.1 895.1 1030.7" stroke-width="1.4"/>
<path d="M816.1 1019.6C818.6 1006.2 830 993.2 844.6 992.4C860.9 992.4 880.4 1012.8 890.2 1032.3" stroke-width="1.4"/>
<path d="M820.5 1017.6C823.8 1007.9 833.2 997.8 844.6 996.8C857.6 996.5 873.9 1011.1 885.3 1033.9" stroke-width="1"/>
<path d="M812.1 1021.7C812.9 1025.5 817 1025 818.6 1022.8C841.4 1037.2 873.9 1037.5 895.1 1030.7C906.5 1029 922.7 1025.8 934.1 1017.6" stroke-width="1.3"/>
<path d="M825.1 1026.6L825.9 1030.7M885.3 1033.9L895.1 1030.7" stroke-width="1"/>
<path d="M760 1004.6C773 1004.6 786 1011.1 786.9 1020.9L786.9 1030.7C784.4 1037.2 776.3 1042.1 769.8 1048.6L760 1055.1" stroke-width="1.8"/>
<path d="M760 1017.6C769.8 1017.6 779.5 1021.2 784.4 1026.6" stroke-width="1.3"/>
<path d="M760 994L813.7 1016" stroke-width="1.2"/>
<path d="M776.3 1060L799.1 1044.5C808.8 1050.2 825.1 1055.1 841.4 1054.3C857.6 1053.4 873.9 1050.2 882.1 1047.7L885.3 1049.4L854.4 1070.5C851.1 1073 847.9 1073.8 841.4 1073.8L813.7 1073.8L807.2 1071.3Z" stroke-width="1.5"/>
<path d="M808.8 1071.3L847.9 1069.7L883.7 1048.9" stroke-width="1"/>
<path d="M807.2 1042.1L825.1 1029.4M839.7 1053.8L860.9 1037.5M812.1 1068.4L831.6 1055.4" stroke-width="1"/>
<path d="M890.3 1050.2L890.3 1043.7C890.3 1041.2 894.9 1041.2 894.9 1043.7L894.9 1050.2" fill="#fff" stroke-width="1.4"/>
<ellipse cx="892.6" cy="1049.7" rx="2.3" ry="1.3"/>
<path d="M834.2 1086.8L834.2 1080.3C834.2 1077.9 838.8 1077.9 838.8 1080.3L838.8 1086.8" fill="#fff" stroke-width="1.4"/>
<ellipse cx="836.5" cy="1086.3" rx="2.3" ry="1.3"/>
<path d="M933.3 1017.6L933.3 1011.1C934.9 1008.7 938.2 1009.2 939 1011.9L940.6 1018.5" stroke-width="1.4"/>
<path d="M935.8 1012.8L936.6 1017.6" stroke-width="1.2"/>
<path d="M760 1066.5C773 1071.3 784.4 1082.7 790.9 1097.4L795 1102.3C808.8 1100.6 828.3 1095.8 844.6 1088.4" stroke-width="1.4"/>
<path d="M760 1095.8L776.3 1096.6L790.9 1098.2" stroke-width="1"/>
<path d="M764.9 1068.4C776.3 1074.6 786 1086 792.5 1099" stroke-width="1"/>
<path d="M760 1055.1L836.5 1084.4L844.6 1087.9L945.5 1020.1C948.4 1017.6 947.5 1015.7 944.7 1014.7L939 1012.8" stroke-width="1.8"/>
<path d="M769.8 1061.3L844.6 1085.2L942.3 1019.3" stroke-width="1"/>
<path d="M693.1 888.1L693.9 919.1L698 1023.2" stroke="#555" stroke-width="1" stroke-dasharray="10 3 3 3" stroke-linecap="butt"/>
<path d="M757.4 884.9L763.1 1049.2" stroke="#444" stroke-width="1" stroke-dasharray="10 3 3 3" stroke-linecap="butt"/>
<path d="M698 1100 L698 1108 L702 1108 L702 1100 Z" fill="#fff" stroke-width="1"/>
<ellipse cx="700" cy="1110" rx="4.2" ry="2.6" fill="#333" stroke-width="1"/>
<path d="M700 1082 L700 1099" stroke-width="1"/>
<path d="M764 1125.5 L764 1133.5 L768 1133.5 L768 1125.5 Z" fill="#fff" stroke-width="1"/>
<ellipse cx="766" cy="1135.5" rx="4.2" ry="2.6" fill="#333" stroke-width="1"/>
<path d="M766 1107.5 L766 1124.5" stroke-width="1"/>
<!-- 12_plate.py -->
<path d="M801.6 707.4L866 661.1L870.5 661.9L871.5 685.9L817.2 723.6L802.6 726.9Z" fill="#fff" stroke-width="1.5"/>
<path d="M801.6 707.4L816.2 704.8L817.2 723.6M816.2 704.8L870.5 664.4"/>
<path d="M819.7 705.4L867 673.6L867.4 685.3L820.5 716.9Z" stroke-width="1.3"/>
<text transform="translate(822.5 717.3) rotate(-34.2) skewX(-12)" font-size="15" font-weight="bold" fill="#999" stroke="#222" stroke-width="0.7" textLength="50" lengthAdjust="spacingAndGlyphs">PLATINUM</text>
<path d="M776.2 802.1L776.2 787.4C776.2 785.5 780.1 785.5 780.1 787.4L780.1 802.1" fill="#fff" stroke-width="1.3"/>
<ellipse cx="778.1" cy="803.6" rx="3.9" ry="2.3" fill="#2a2a2a" stroke-width="1"/>
<path d="M810 783.5L810 768.9C810 766.9 813.9 766.9 813.9 768.9L813.9 783.5" fill="#fff" stroke-width="1.3"/>
<ellipse cx="811.9" cy="785.1" rx="3.9" ry="2.3" fill="#2a2a2a" stroke-width="1"/>
<path d="M691.2 788.4L703.9 779.6C706.9 779 708.4 781.6 708.4 784.5L708.8 792.3C712.7 791.3 715.7 794.3 714.3 799.2C712.7 805 709.8 807.9 706.9 808.3L693.2 811.8Z" fill="#fff" stroke-width="1.4"/>
<path d="M691.2 788.4L693.2 811.8M694.2 790.4L705.9 783.5M694.8 796.2L703.9 791.3M705.9 796.2C703.9 800.1 703.9 806 706.9 808.3" stroke-width="1.2"/>
<path d="M692.2 789.4L703.9 781" stroke="#333" stroke-width="2.4"/>
<path d="M737.1 803.1L748.9 797.2C751.8 797.2 753.7 799.2 753.7 802.1L754.1 819.7L737.1 828.4Z" fill="#fff" stroke-width="1.5"/>
<path d="M730.7 802.1C733.2 799.7 736.6 800.5 737.1 803.1L737.7 818.7L733.2 820.6C730.3 815.8 729.3 807.9 730.7 802.1Z" fill="#fff" stroke-width="1.4"/>
<ellipse cx="745.3" cy="812.8" rx="3.9" ry="7.4" transform="rotate(-8 745.3 812.8)" stroke-width="1.6"/>
<ellipse cx="745.3" cy="812.8" rx="1.6" ry="3.9" transform="rotate(-8 745.3 812.8)" stroke-width="1.2"/>
<path d="M739.7 805L750.8 800.1L751.4 818.7L740.1 824.5Z" stroke-width="1"/>
<path d="M747.5 720.5L751.8 724.4L751.8 741.5M774.2 719.1L775.2 737.6"/>
<path d="M766.4 730.2L777.2 730.8" stroke-width="1.3"/>
<path d="M769.4 728.9L772.3 730.4L769.4 732Z" fill="#222" stroke-width="1"/>
<ellipse cx="774.6" cy="719.7" rx="1" ry="1.2" fill="#333" stroke-width="1"/>
<ellipse cx="750.4" cy="711.9" rx="0.6" ry="0.6" fill="#555" stroke-width="1"/>
<path d="M687.3 729.8L702 735.1" stroke="#444" stroke-width="1" stroke-dasharray="8 3" stroke-linecap="butt"/>
<path d="M688.3 735.7L689.3 784.5" stroke="#444" stroke-width="1" stroke-dasharray="12 4" stroke-linecap="butt"/>
<path d="M697.1 737.1L698.7 780.6" stroke="#444" stroke-width="1" stroke-dasharray="12 4" stroke-linecap="butt"/>
<path d="M761.5 735.3 L700 778" stroke="#3a3a3a" stroke-width="1.1" stroke-dasharray="13 5" stroke-linecap="butt"/>
<path d="M774 740.6 L709 784" stroke="#3a3a3a" stroke-width="1.1" stroke-dasharray="13 5" stroke-linecap="butt"/>
<path d="M690.3 813.8L691.6 880" stroke="#444" stroke-width="1" stroke-dasharray="12 4 3 4" stroke-linecap="butt"/>
<path d="M753.7 786.5L754.7 880" stroke="#444" stroke-width="1" stroke-dasharray="12 4 3 4" stroke-linecap="butt"/>
<path d="M615 840.2L585 860.2" stroke="#444" stroke-width="1" stroke-dasharray="12 4" stroke-linecap="butt"/>
<!-- 13_washers.py -->
<ellipse cx="959.8" cy="388" rx="7.5" ry="8.6" transform="rotate(-34 959.8 388)" fill="#fff" stroke-width="1.8"/>
<ellipse cx="959.8" cy="388" rx="4.9" ry="5.9" transform="rotate(-34 959.8 388)" stroke="#555" stroke-width="1"/>
<ellipse cx="959.8" cy="388" rx="1.6" ry="2" transform="rotate(-34 959.8 388)" fill="#999" stroke-width="1.2"/>
<ellipse cx="979.1" cy="374.5" rx="5.9" ry="6.8" transform="rotate(-34 979.1 374.5)" fill="#fff" stroke-width="1.3"/>
<path d="M972.6 376.6L976.4 374.5L978.8 378.2L974.8 380.7Z" fill="#fff"/>
<ellipse cx="973.3" cy="378.7" rx="1.5" ry="1.8" fill="#333" stroke-width="1"/>
<path d="M949.5 394.8L953.8 392.1M966.6 383.6L972 379.9" stroke="#444" stroke-width="1"/>
<ellipse cx="1087.9" cy="437.6" rx="7.5" ry="8.6" transform="rotate(-34 1087.9 437.6)" fill="#fff" stroke-width="1.8"/>
<ellipse cx="1087.9" cy="437.6" rx="4.9" ry="5.9" transform="rotate(-34 1087.9 437.6)" stroke="#555" stroke-width="1"/>
<ellipse cx="1087.9" cy="437.6" rx="1.6" ry="2" transform="rotate(-34 1087.9 437.6)" fill="#999" stroke-width="1.2"/>
<ellipse cx="1107.2" cy="424.1" rx="5.9" ry="6.8" transform="rotate(-34 1107.2 424.1)" fill="#fff" stroke-width="1.3"/>
<path d="M1100.7 426.2L1104.5 424.1L1106.9 427.8L1102.9 430.3Z" fill="#fff"/>
<ellipse cx="1101.4" cy="428.3" rx="1.5" ry="1.8" fill="#333" stroke-width="1"/>
<path d="M1077.6 444.4L1081.9 441.7M1094.7 433.2L1100.1 429.5" stroke="#444" stroke-width="1"/>
<path d="M892.5 434.9L927.7 411.5" stroke="#555" stroke-width="1" stroke-dasharray="8 3" stroke-linecap="butt"/>
<path d="M1021.1 484.2L1055.5 461.5" stroke="#555" stroke-width="1" stroke-dasharray="8 3" stroke-linecap="butt"/>
<ellipse cx="94.2" cy="979.2" rx="11" ry="13.7" transform="rotate(-34 94.2 979.2)" fill="#fff" stroke-width="1.4"/>
<ellipse cx="93.7" cy="979.7" rx="2.9" ry="3.9" transform="rotate(-34 93.7 979.7)" fill="#ddd" stroke-width="1.3"/>
<ellipse cx="69.3" cy="996.8" rx="8.3" ry="11.2" transform="rotate(-20 69.3 996.8)" fill="#fff" stroke-width="1.4"/>
<path d="M68.5 986.5L71 1007.3" stroke-width="1.2"/>
<path d="M74.6 989L80.7 987.8L82.5 991.4L77.1 995.1"/>
<path d="M82 989L85.6 986.5" stroke-width="1"/>
<path d="M103.9 970.7L206.5 902.3" stroke="#555" stroke-width="1" stroke-dasharray="10 4" stroke-linecap="butt"/>
<ellipse cx="292.7" cy="1055.2" rx="11" ry="13.7" transform="rotate(-34 292.7 1055.2)" fill="#fff" stroke-width="1.4"/>
<ellipse cx="292.2" cy="1055.7" rx="2.9" ry="3.9" transform="rotate(-34 292.2 1055.7)" fill="#ddd" stroke-width="1.3"/>
<ellipse cx="267.8" cy="1072.8" rx="8.3" ry="11.2" transform="rotate(-20 267.8 1072.8)" fill="#fff" stroke-width="1.4"/>
<path d="M267 1062.5L269.5 1083.3" stroke-width="1.2"/>
<path d="M273.1 1065L279.2 1063.8L281 1067.4L275.6 1071.1"/>
<path d="M280.5 1065L284.1 1062.5" stroke-width="1"/>
<path d="M302.4 1046.7L405 978.3" stroke="#555" stroke-width="1" stroke-dasharray="10 4" stroke-linecap="butt"/>
</g>
</svg>
</body></html>
